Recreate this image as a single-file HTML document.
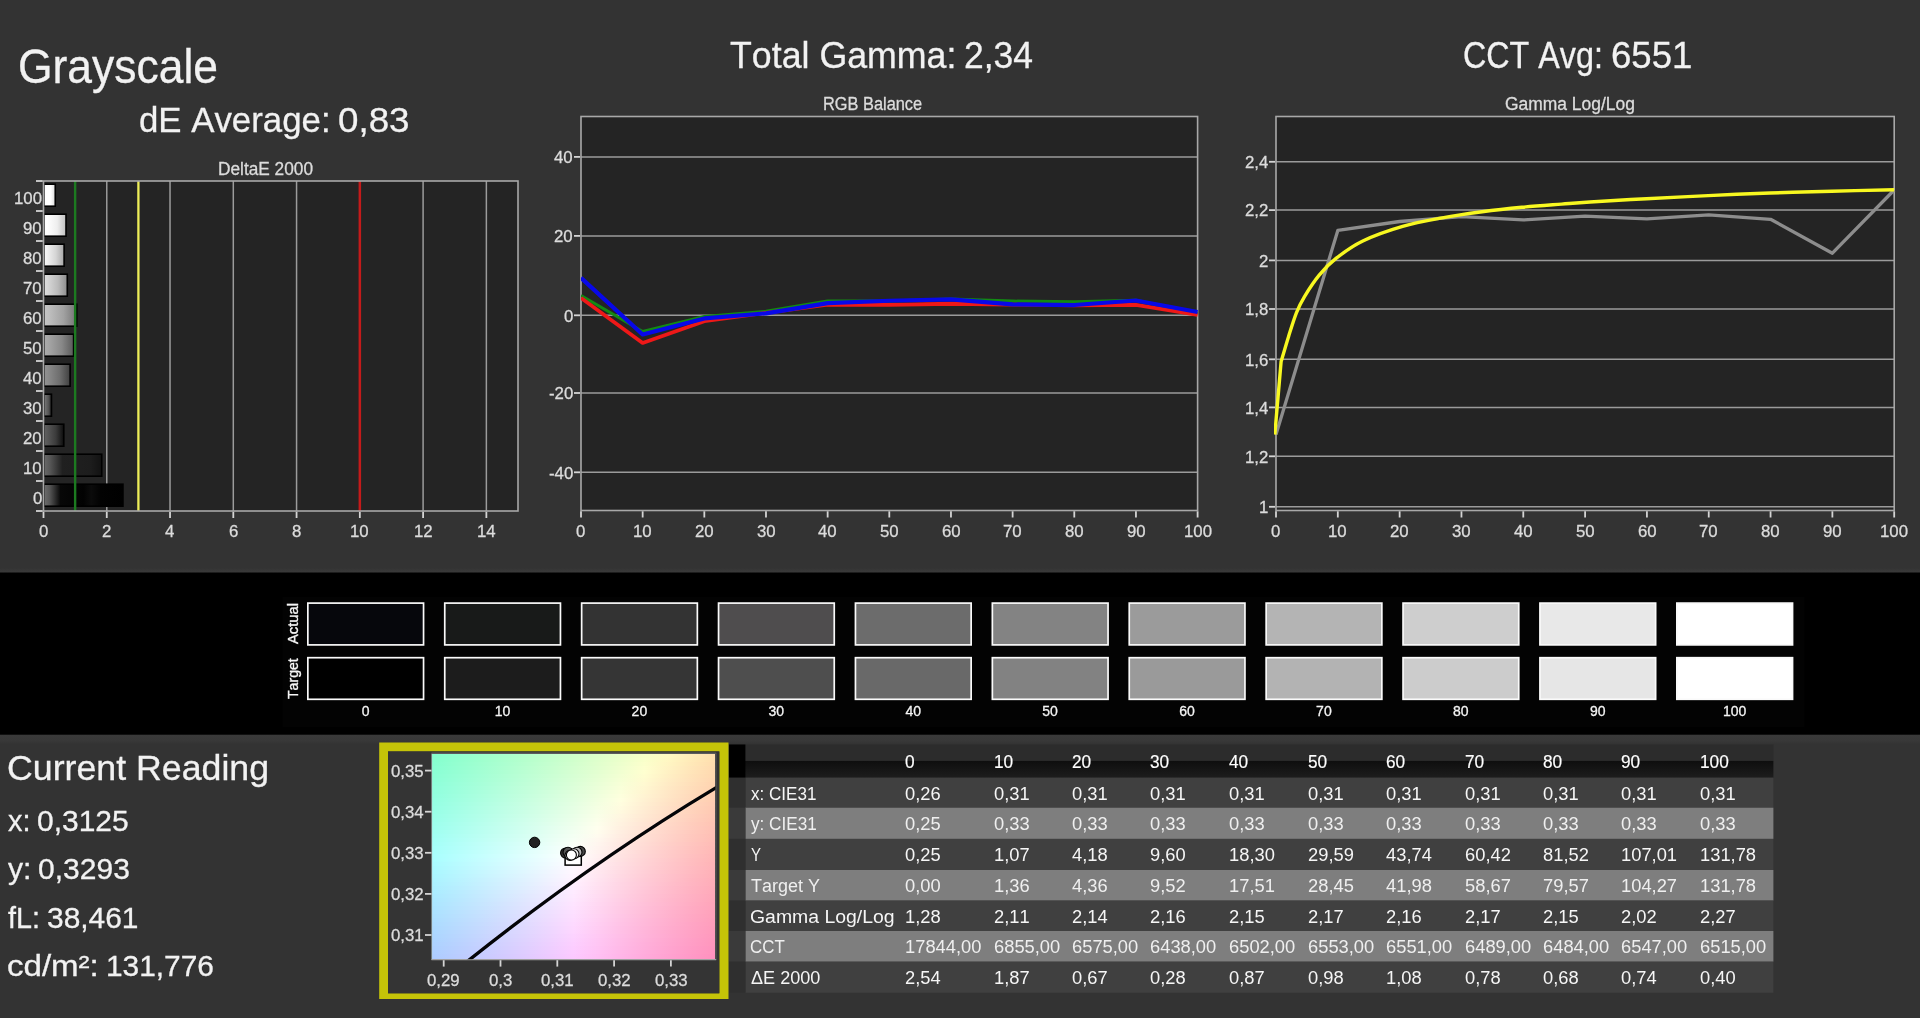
<!DOCTYPE html>
<html lang="en"><head><meta charset="utf-8"><title>Grayscale</title>
<style>
html,body{margin:0;padding:0;background:#333333;}
body{width:1920px;height:1018px;position:relative;overflow:hidden;font-family:"Liberation Sans",sans-serif;}
svg{position:absolute;left:0;top:0;}
#tx{position:absolute;left:0;top:0;width:1920px;height:1018px;will-change:transform;}
.t{position:absolute;white-space:nowrap;line-height:1;transform-origin:0 0;margin:0;padding:0;font-kerning:none;-webkit-text-stroke:0.3px currentColor;}
.r{position:absolute;white-space:nowrap;line-height:1;transform-origin:0 0;color:#f6f6f6;font-kerning:none;-webkit-text-stroke:0.35px currentColor;}
</style></head><body>
<svg width="1920" height="1018" viewBox="0 0 1920 1018">
<defs>
<linearGradient id="b0" x1="0" y1="0" x2="1" y2="0"><stop offset="0.000" stop-color="#6e6e6e"/><stop offset="0.070" stop-color="#585858"/><stop offset="0.210" stop-color="#070707"/><stop offset="0.500" stop-color="#020202"/><stop offset="0.600" stop-color="#0b0b0b"/><stop offset="0.720" stop-color="#020202"/><stop offset="1.000" stop-color="#000000"/></linearGradient>
<linearGradient id="b1" x1="0" y1="0" x2="1" y2="0"><stop offset="0.000" stop-color="#6a6a6a"/><stop offset="0.100" stop-color="#585858"/><stop offset="0.320" stop-color="#202020"/><stop offset="0.800" stop-color="#1d1d1d"/><stop offset="1.000" stop-color="#121212"/></linearGradient>
<linearGradient id="b2" x1="0" y1="0" x2="1" y2="0"><stop offset="0.000" stop-color="#606060"/><stop offset="0.150" stop-color="#595959"/><stop offset="0.600" stop-color="#3b3b3b"/><stop offset="1.000" stop-color="#0d0d0d"/></linearGradient>
<linearGradient id="b3" x1="0" y1="0" x2="1" y2="0"><stop offset="0.000" stop-color="#797979"/><stop offset="0.150" stop-color="#727272"/><stop offset="0.600" stop-color="#545454"/><stop offset="1.000" stop-color="#262626"/></linearGradient>
<linearGradient id="b4" x1="0" y1="0" x2="1" y2="0"><stop offset="0.000" stop-color="#939393"/><stop offset="0.150" stop-color="#8c8c8c"/><stop offset="0.600" stop-color="#6e6e6e"/><stop offset="1.000" stop-color="#404040"/></linearGradient>
<linearGradient id="b5" x1="0" y1="0" x2="1" y2="0"><stop offset="0.000" stop-color="#adadad"/><stop offset="0.150" stop-color="#a6a6a6"/><stop offset="0.600" stop-color="#888888"/><stop offset="1.000" stop-color="#5a5a5a"/></linearGradient>
<linearGradient id="b6" x1="0" y1="0" x2="1" y2="0"><stop offset="0.000" stop-color="#c6c6c6"/><stop offset="0.150" stop-color="#bfbfbf"/><stop offset="0.600" stop-color="#a1a1a1"/><stop offset="1.000" stop-color="#737373"/></linearGradient>
<linearGradient id="b7" x1="0" y1="0" x2="1" y2="0"><stop offset="0.000" stop-color="#dfdfdf"/><stop offset="0.150" stop-color="#d8d8d8"/><stop offset="0.600" stop-color="#bababa"/><stop offset="1.000" stop-color="#8c8c8c"/></linearGradient>
<linearGradient id="b8" x1="0" y1="0" x2="1" y2="0"><stop offset="0.000" stop-color="#f9f9f9"/><stop offset="0.150" stop-color="#f2f2f2"/><stop offset="0.600" stop-color="#d4d4d4"/><stop offset="1.000" stop-color="#a6a6a6"/></linearGradient>
<linearGradient id="b9" x1="0" y1="0" x2="1" y2="0"><stop offset="0.000" stop-color="#ffffff"/><stop offset="0.150" stop-color="#ffffff"/><stop offset="0.600" stop-color="#eeeeee"/><stop offset="1.000" stop-color="#c0c0c0"/></linearGradient>
<linearGradient id="b10" x1="0" y1="0" x2="1" y2="0"><stop offset="0.000" stop-color="#ffffff"/><stop offset="0.150" stop-color="#ffffff"/><stop offset="0.600" stop-color="#ffffff"/><stop offset="1.000" stop-color="#d9d9d9"/></linearGradient>
<clipPath id="rgbclip"><rect x="581.0" y="116.5" width="616.9999999999999" height="394.0"/></clipPath>
<clipPath id="gclip"><rect x="1274.0" y="116.5" width="621.7" height="394.0"/></clipPath>
<linearGradient id="ls1" x1="0" y1="0" x2="0" y2="1"><stop offset="0" stop-color="#333333"/><stop offset="1" stop-color="#3c3c3c"/></linearGradient>
<linearGradient id="ls2" x1="0" y1="0" x2="0" y2="1"><stop offset="0" stop-color="#3a3a3a"/><stop offset="0.7" stop-color="#383838"/><stop offset="1" stop-color="#333333"/></linearGradient>
<clipPath id="cclip"><rect x="432.0" y="753.8" width="283.4" height="205.4000000000001"/></clipPath>
<linearGradient id="c0"><stop offset="0.0000" stop-color="#84ffcd"/><stop offset="0.0833" stop-color="#90ffcd"/><stop offset="0.1667" stop-color="#9cffcc"/><stop offset="0.2500" stop-color="#a8ffcc"/><stop offset="0.3333" stop-color="#b5ffcb"/><stop offset="0.4167" stop-color="#c2ffcb"/><stop offset="0.5000" stop-color="#cfffca"/><stop offset="0.5833" stop-color="#dcffca"/><stop offset="0.6667" stop-color="#eaffc9"/><stop offset="0.7500" stop-color="#f7ffc8"/><stop offset="0.8333" stop-color="#fff9c3"/><stop offset="0.9167" stop-color="#ffebb8"/><stop offset="1.0000" stop-color="#ffdfae"/></linearGradient>
<linearGradient id="c1"><stop offset="0.0000" stop-color="#85ffcf"/><stop offset="0.0833" stop-color="#91ffcf"/><stop offset="0.1667" stop-color="#9dffce"/><stop offset="0.2500" stop-color="#aaffce"/><stop offset="0.3333" stop-color="#b6ffcd"/><stop offset="0.4167" stop-color="#c3ffcd"/><stop offset="0.5000" stop-color="#d0ffcc"/><stop offset="0.5833" stop-color="#deffcc"/><stop offset="0.6667" stop-color="#ebffcb"/><stop offset="0.7500" stop-color="#f9ffca"/><stop offset="0.8333" stop-color="#fff7c3"/><stop offset="0.9167" stop-color="#ffeab8"/><stop offset="1.0000" stop-color="#ffdeae"/></linearGradient>
<linearGradient id="c2"><stop offset="0.0000" stop-color="#86ffd1"/><stop offset="0.0833" stop-color="#93ffd0"/><stop offset="0.1667" stop-color="#9fffd0"/><stop offset="0.2500" stop-color="#abffd0"/><stop offset="0.3333" stop-color="#b8ffcf"/><stop offset="0.4167" stop-color="#c5ffcf"/><stop offset="0.5000" stop-color="#d2ffce"/><stop offset="0.5833" stop-color="#e0ffcd"/><stop offset="0.6667" stop-color="#edffcd"/><stop offset="0.7500" stop-color="#fbffcc"/><stop offset="0.8333" stop-color="#fff5c3"/><stop offset="0.9167" stop-color="#ffe8b8"/><stop offset="1.0000" stop-color="#ffdcae"/></linearGradient>
<linearGradient id="c3"><stop offset="0.0000" stop-color="#88ffd3"/><stop offset="0.0833" stop-color="#94ffd2"/><stop offset="0.1667" stop-color="#a0ffd2"/><stop offset="0.2500" stop-color="#adffd1"/><stop offset="0.3333" stop-color="#baffd1"/><stop offset="0.4167" stop-color="#c7ffd0"/><stop offset="0.5000" stop-color="#d4ffd0"/><stop offset="0.5833" stop-color="#e1ffcf"/><stop offset="0.6667" stop-color="#efffcf"/><stop offset="0.7500" stop-color="#fdffce"/><stop offset="0.8333" stop-color="#fff3c4"/><stop offset="0.9167" stop-color="#ffe6b9"/><stop offset="1.0000" stop-color="#ffdaaf"/></linearGradient>
<linearGradient id="c4"><stop offset="0.0000" stop-color="#89ffd5"/><stop offset="0.0833" stop-color="#95ffd4"/><stop offset="0.1667" stop-color="#a2ffd4"/><stop offset="0.2500" stop-color="#aeffd3"/><stop offset="0.3333" stop-color="#bbffd3"/><stop offset="0.4167" stop-color="#c8ffd2"/><stop offset="0.5000" stop-color="#d6ffd2"/><stop offset="0.5833" stop-color="#e3ffd1"/><stop offset="0.6667" stop-color="#f1ffd1"/><stop offset="0.7500" stop-color="#ffffd0"/><stop offset="0.8333" stop-color="#fff1c4"/><stop offset="0.9167" stop-color="#ffe4b9"/><stop offset="1.0000" stop-color="#ffd8af"/></linearGradient>
<linearGradient id="c5"><stop offset="0.0000" stop-color="#8bffd6"/><stop offset="0.0833" stop-color="#97ffd6"/><stop offset="0.1667" stop-color="#a3ffd6"/><stop offset="0.2500" stop-color="#b0ffd5"/><stop offset="0.3333" stop-color="#bdffd5"/><stop offset="0.4167" stop-color="#caffd4"/><stop offset="0.5000" stop-color="#d7ffd4"/><stop offset="0.5833" stop-color="#e5ffd3"/><stop offset="0.6667" stop-color="#f3ffd3"/><stop offset="0.7500" stop-color="#fffdd0"/><stop offset="0.8333" stop-color="#ffefc4"/><stop offset="0.9167" stop-color="#ffe2b9"/><stop offset="1.0000" stop-color="#ffd7af"/></linearGradient>
<linearGradient id="c6"><stop offset="0.0000" stop-color="#8cffd8"/><stop offset="0.0833" stop-color="#98ffd8"/><stop offset="0.1667" stop-color="#a5ffd7"/><stop offset="0.2500" stop-color="#b1ffd7"/><stop offset="0.3333" stop-color="#beffd7"/><stop offset="0.4167" stop-color="#ccffd6"/><stop offset="0.5000" stop-color="#d9ffd6"/><stop offset="0.5833" stop-color="#e7ffd5"/><stop offset="0.6667" stop-color="#f5ffd5"/><stop offset="0.7500" stop-color="#fffbd0"/><stop offset="0.8333" stop-color="#ffedc5"/><stop offset="0.9167" stop-color="#ffe1ba"/><stop offset="1.0000" stop-color="#ffd5b0"/></linearGradient>
<linearGradient id="c7"><stop offset="0.0000" stop-color="#8dffda"/><stop offset="0.0833" stop-color="#9affda"/><stop offset="0.1667" stop-color="#a6ffd9"/><stop offset="0.2500" stop-color="#b3ffd9"/><stop offset="0.3333" stop-color="#c0ffd8"/><stop offset="0.4167" stop-color="#cdffd8"/><stop offset="0.5000" stop-color="#dbffd8"/><stop offset="0.5833" stop-color="#e9ffd7"/><stop offset="0.6667" stop-color="#f7ffd7"/><stop offset="0.7500" stop-color="#fff9d1"/><stop offset="0.8333" stop-color="#ffebc5"/><stop offset="0.9167" stop-color="#ffdfba"/><stop offset="1.0000" stop-color="#ffd3b0"/></linearGradient>
<linearGradient id="c8"><stop offset="0.0000" stop-color="#8fffdc"/><stop offset="0.0833" stop-color="#9bffdc"/><stop offset="0.1667" stop-color="#a8ffdb"/><stop offset="0.2500" stop-color="#b5ffdb"/><stop offset="0.3333" stop-color="#c2ffda"/><stop offset="0.4167" stop-color="#cfffda"/><stop offset="0.5000" stop-color="#ddffda"/><stop offset="0.5833" stop-color="#ebffd9"/><stop offset="0.6667" stop-color="#f9ffd9"/><stop offset="0.7500" stop-color="#fff7d1"/><stop offset="0.8333" stop-color="#ffe9c5"/><stop offset="0.9167" stop-color="#ffddba"/><stop offset="1.0000" stop-color="#ffd2b0"/></linearGradient>
<linearGradient id="c9"><stop offset="0.0000" stop-color="#90ffde"/><stop offset="0.0833" stop-color="#9cffdd"/><stop offset="0.1667" stop-color="#a9ffdd"/><stop offset="0.2500" stop-color="#b6ffdd"/><stop offset="0.3333" stop-color="#c3ffdc"/><stop offset="0.4167" stop-color="#d1ffdc"/><stop offset="0.5000" stop-color="#dfffdc"/><stop offset="0.5833" stop-color="#edffdb"/><stop offset="0.6667" stop-color="#fbffdb"/><stop offset="0.7500" stop-color="#fff5d1"/><stop offset="0.8333" stop-color="#ffe7c6"/><stop offset="0.9167" stop-color="#ffdbbb"/><stop offset="1.0000" stop-color="#ffd0b1"/></linearGradient>
<linearGradient id="c10"><stop offset="0.0000" stop-color="#91ffe0"/><stop offset="0.0833" stop-color="#9effdf"/><stop offset="0.1667" stop-color="#abffdf"/><stop offset="0.2500" stop-color="#b8ffdf"/><stop offset="0.3333" stop-color="#c5ffde"/><stop offset="0.4167" stop-color="#d3ffde"/><stop offset="0.5000" stop-color="#e1ffde"/><stop offset="0.5833" stop-color="#efffdd"/><stop offset="0.6667" stop-color="#fdffdd"/><stop offset="0.7500" stop-color="#fff3d2"/><stop offset="0.8333" stop-color="#ffe6c6"/><stop offset="0.9167" stop-color="#ffd9bb"/><stop offset="1.0000" stop-color="#ffceb1"/></linearGradient>
<linearGradient id="c11"><stop offset="0.0000" stop-color="#93ffe2"/><stop offset="0.0833" stop-color="#9fffe1"/><stop offset="0.1667" stop-color="#acffe1"/><stop offset="0.2500" stop-color="#b9ffe1"/><stop offset="0.3333" stop-color="#c7ffe0"/><stop offset="0.4167" stop-color="#d5ffe0"/><stop offset="0.5000" stop-color="#e2ffe0"/><stop offset="0.5833" stop-color="#f1ffdf"/><stop offset="0.6667" stop-color="#ffffdf"/><stop offset="0.7500" stop-color="#fff1d2"/><stop offset="0.8333" stop-color="#ffe4c6"/><stop offset="0.9167" stop-color="#ffd8bb"/><stop offset="1.0000" stop-color="#ffcdb1"/></linearGradient>
<linearGradient id="c12"><stop offset="0.0000" stop-color="#94ffe3"/><stop offset="0.0833" stop-color="#a1ffe3"/><stop offset="0.1667" stop-color="#aeffe3"/><stop offset="0.2500" stop-color="#bbffe3"/><stop offset="0.3333" stop-color="#c9ffe2"/><stop offset="0.4167" stop-color="#d6ffe2"/><stop offset="0.5000" stop-color="#e4ffe2"/><stop offset="0.5833" stop-color="#f3ffe1"/><stop offset="0.6667" stop-color="#fffddf"/><stop offset="0.7500" stop-color="#ffefd2"/><stop offset="0.8333" stop-color="#ffe2c6"/><stop offset="0.9167" stop-color="#ffd6bc"/><stop offset="1.0000" stop-color="#ffcbb2"/></linearGradient>
<linearGradient id="c13"><stop offset="0.0000" stop-color="#96ffe5"/><stop offset="0.0833" stop-color="#a2ffe5"/><stop offset="0.1667" stop-color="#b0ffe5"/><stop offset="0.2500" stop-color="#bdffe5"/><stop offset="0.3333" stop-color="#caffe4"/><stop offset="0.4167" stop-color="#d8ffe4"/><stop offset="0.5000" stop-color="#e6ffe4"/><stop offset="0.5833" stop-color="#f5ffe3"/><stop offset="0.6667" stop-color="#fffbdf"/><stop offset="0.7500" stop-color="#ffedd2"/><stop offset="0.8333" stop-color="#ffe0c7"/><stop offset="0.9167" stop-color="#ffd4bc"/><stop offset="1.0000" stop-color="#ffc9b2"/></linearGradient>
<linearGradient id="c14"><stop offset="0.0000" stop-color="#97ffe7"/><stop offset="0.0833" stop-color="#a4ffe7"/><stop offset="0.1667" stop-color="#b1ffe7"/><stop offset="0.2500" stop-color="#beffe7"/><stop offset="0.3333" stop-color="#ccffe6"/><stop offset="0.4167" stop-color="#daffe6"/><stop offset="0.5000" stop-color="#e8ffe6"/><stop offset="0.5833" stop-color="#f7ffe6"/><stop offset="0.6667" stop-color="#fff9df"/><stop offset="0.7500" stop-color="#ffebd3"/><stop offset="0.8333" stop-color="#ffdec7"/><stop offset="0.9167" stop-color="#ffd3bc"/><stop offset="1.0000" stop-color="#ffc8b2"/></linearGradient>
<linearGradient id="c15"><stop offset="0.0000" stop-color="#99ffe9"/><stop offset="0.0833" stop-color="#a6ffe9"/><stop offset="0.1667" stop-color="#b3ffe9"/><stop offset="0.2500" stop-color="#c0ffe9"/><stop offset="0.3333" stop-color="#ceffe8"/><stop offset="0.4167" stop-color="#dcffe8"/><stop offset="0.5000" stop-color="#eaffe8"/><stop offset="0.5833" stop-color="#f9ffe8"/><stop offset="0.6667" stop-color="#fff6e0"/><stop offset="0.7500" stop-color="#ffe9d3"/><stop offset="0.8333" stop-color="#ffdcc7"/><stop offset="0.9167" stop-color="#ffd1bd"/><stop offset="1.0000" stop-color="#ffc6b3"/></linearGradient>
<linearGradient id="c16"><stop offset="0.0000" stop-color="#9affeb"/><stop offset="0.0833" stop-color="#a7ffeb"/><stop offset="0.1667" stop-color="#b4ffeb"/><stop offset="0.2500" stop-color="#c2ffeb"/><stop offset="0.3333" stop-color="#d0ffeb"/><stop offset="0.4167" stop-color="#deffea"/><stop offset="0.5000" stop-color="#ecffea"/><stop offset="0.5833" stop-color="#fbffea"/><stop offset="0.6667" stop-color="#fff4e0"/><stop offset="0.7500" stop-color="#ffe7d3"/><stop offset="0.8333" stop-color="#ffdbc8"/><stop offset="0.9167" stop-color="#ffcfbd"/><stop offset="1.0000" stop-color="#ffc5b3"/></linearGradient>
<linearGradient id="c17"><stop offset="0.0000" stop-color="#9cffed"/><stop offset="0.0833" stop-color="#a9ffed"/><stop offset="0.1667" stop-color="#b6ffed"/><stop offset="0.2500" stop-color="#c4ffed"/><stop offset="0.3333" stop-color="#d2ffed"/><stop offset="0.4167" stop-color="#e0ffec"/><stop offset="0.5000" stop-color="#eeffec"/><stop offset="0.5833" stop-color="#fdffec"/><stop offset="0.6667" stop-color="#fff2e0"/><stop offset="0.7500" stop-color="#ffe5d4"/><stop offset="0.8333" stop-color="#ffd9c8"/><stop offset="0.9167" stop-color="#ffcdbd"/><stop offset="1.0000" stop-color="#ffc3b3"/></linearGradient>
<linearGradient id="c18"><stop offset="0.0000" stop-color="#9dffef"/><stop offset="0.0833" stop-color="#aaffef"/><stop offset="0.1667" stop-color="#b8ffef"/><stop offset="0.2500" stop-color="#c5ffef"/><stop offset="0.3333" stop-color="#d3ffef"/><stop offset="0.4167" stop-color="#e2ffef"/><stop offset="0.5000" stop-color="#f0ffee"/><stop offset="0.5833" stop-color="#ffffee"/><stop offset="0.6667" stop-color="#fff0e0"/><stop offset="0.7500" stop-color="#ffe3d4"/><stop offset="0.8333" stop-color="#ffd7c8"/><stop offset="0.9167" stop-color="#ffccbe"/><stop offset="1.0000" stop-color="#ffc1b4"/></linearGradient>
<linearGradient id="c19"><stop offset="0.0000" stop-color="#9ffff1"/><stop offset="0.0833" stop-color="#acfff1"/><stop offset="0.1667" stop-color="#b9fff1"/><stop offset="0.2500" stop-color="#c7fff1"/><stop offset="0.3333" stop-color="#d5fff1"/><stop offset="0.4167" stop-color="#e4fff1"/><stop offset="0.5000" stop-color="#f2fff1"/><stop offset="0.5833" stop-color="#fffdee"/><stop offset="0.6667" stop-color="#ffeee1"/><stop offset="0.7500" stop-color="#ffe1d4"/><stop offset="0.8333" stop-color="#ffd5c9"/><stop offset="0.9167" stop-color="#ffcabe"/><stop offset="1.0000" stop-color="#ffc0b4"/></linearGradient>
<linearGradient id="c20"><stop offset="0.0000" stop-color="#a0fff4"/><stop offset="0.0833" stop-color="#aefff3"/><stop offset="0.1667" stop-color="#bbfff3"/><stop offset="0.2500" stop-color="#c9fff3"/><stop offset="0.3333" stop-color="#d7fff3"/><stop offset="0.4167" stop-color="#e6fff3"/><stop offset="0.5000" stop-color="#f4fff3"/><stop offset="0.5833" stop-color="#fffbef"/><stop offset="0.6667" stop-color="#ffece1"/><stop offset="0.7500" stop-color="#ffdfd4"/><stop offset="0.8333" stop-color="#ffd3c9"/><stop offset="0.9167" stop-color="#ffc8be"/><stop offset="1.0000" stop-color="#ffbeb4"/></linearGradient>
<linearGradient id="c21"><stop offset="0.0000" stop-color="#a2fff6"/><stop offset="0.0833" stop-color="#affff6"/><stop offset="0.1667" stop-color="#bdfff5"/><stop offset="0.2500" stop-color="#cbfff5"/><stop offset="0.3333" stop-color="#d9fff5"/><stop offset="0.4167" stop-color="#e8fff5"/><stop offset="0.5000" stop-color="#f6fff5"/><stop offset="0.5833" stop-color="#fff8ef"/><stop offset="0.6667" stop-color="#ffeae1"/><stop offset="0.7500" stop-color="#ffded5"/><stop offset="0.8333" stop-color="#ffd2c9"/><stop offset="0.9167" stop-color="#ffc7be"/><stop offset="1.0000" stop-color="#ffbdb5"/></linearGradient>
<linearGradient id="c22"><stop offset="0.0000" stop-color="#a3fff8"/><stop offset="0.0833" stop-color="#b1fff8"/><stop offset="0.1667" stop-color="#bffff8"/><stop offset="0.2500" stop-color="#cdfff8"/><stop offset="0.3333" stop-color="#dbfff8"/><stop offset="0.4167" stop-color="#eafff7"/><stop offset="0.5000" stop-color="#f9fff7"/><stop offset="0.5833" stop-color="#fff6ef"/><stop offset="0.6667" stop-color="#ffe8e1"/><stop offset="0.7500" stop-color="#ffdcd5"/><stop offset="0.8333" stop-color="#ffd0c9"/><stop offset="0.9167" stop-color="#ffc5bf"/><stop offset="1.0000" stop-color="#ffbbb5"/></linearGradient>
<linearGradient id="c23"><stop offset="0.0000" stop-color="#a5fffa"/><stop offset="0.0833" stop-color="#b2fffa"/><stop offset="0.1667" stop-color="#c0fffa"/><stop offset="0.2500" stop-color="#cefffa"/><stop offset="0.3333" stop-color="#ddfffa"/><stop offset="0.4167" stop-color="#ecfffa"/><stop offset="0.5000" stop-color="#fbfffa"/><stop offset="0.5833" stop-color="#fff4ef"/><stop offset="0.6667" stop-color="#ffe7e2"/><stop offset="0.7500" stop-color="#ffdad5"/><stop offset="0.8333" stop-color="#ffceca"/><stop offset="0.9167" stop-color="#ffc3bf"/><stop offset="1.0000" stop-color="#ffb9b5"/></linearGradient>
<linearGradient id="c24"><stop offset="0.0000" stop-color="#a7fffc"/><stop offset="0.0833" stop-color="#b4fffc"/><stop offset="0.1667" stop-color="#c2fffc"/><stop offset="0.2500" stop-color="#d0fffc"/><stop offset="0.3333" stop-color="#dffffc"/><stop offset="0.4167" stop-color="#eefffc"/><stop offset="0.5000" stop-color="#fdfffc"/><stop offset="0.5833" stop-color="#fff2ef"/><stop offset="0.6667" stop-color="#ffe5e2"/><stop offset="0.7500" stop-color="#ffd8d5"/><stop offset="0.8333" stop-color="#ffccca"/><stop offset="0.9167" stop-color="#ffc2bf"/><stop offset="1.0000" stop-color="#ffb8b6"/></linearGradient>
<linearGradient id="c25"><stop offset="0.0000" stop-color="#a8fffe"/><stop offset="0.0833" stop-color="#b6fffe"/><stop offset="0.1667" stop-color="#c4fffe"/><stop offset="0.2500" stop-color="#d2fffe"/><stop offset="0.3333" stop-color="#e1fffe"/><stop offset="0.4167" stop-color="#f0fffe"/><stop offset="0.5000" stop-color="#fffffe"/><stop offset="0.5833" stop-color="#fff0f0"/><stop offset="0.6667" stop-color="#ffe3e2"/><stop offset="0.7500" stop-color="#ffd6d6"/><stop offset="0.8333" stop-color="#ffcbca"/><stop offset="0.9167" stop-color="#ffc0c0"/><stop offset="1.0000" stop-color="#ffb6b6"/></linearGradient>
<linearGradient id="c26"><stop offset="0.0000" stop-color="#a9feff"/><stop offset="0.0833" stop-color="#b7feff"/><stop offset="0.1667" stop-color="#c5fdff"/><stop offset="0.2500" stop-color="#d3fdff"/><stop offset="0.3333" stop-color="#e1fdff"/><stop offset="0.4167" stop-color="#f0fdff"/><stop offset="0.5000" stop-color="#fffdfe"/><stop offset="0.5833" stop-color="#ffeef0"/><stop offset="0.6667" stop-color="#ffe1e2"/><stop offset="0.7500" stop-color="#ffd4d6"/><stop offset="0.8333" stop-color="#ffc9cb"/><stop offset="0.9167" stop-color="#ffbec0"/><stop offset="1.0000" stop-color="#ffb5b6"/></linearGradient>
<linearGradient id="c27"><stop offset="0.0000" stop-color="#a9fbff"/><stop offset="0.0833" stop-color="#b7fbff"/><stop offset="0.1667" stop-color="#c5fbff"/><stop offset="0.2500" stop-color="#d3fbff"/><stop offset="0.3333" stop-color="#e1fbff"/><stop offset="0.4167" stop-color="#f0fbff"/><stop offset="0.5000" stop-color="#fffbff"/><stop offset="0.5833" stop-color="#ffecf0"/><stop offset="0.6667" stop-color="#ffdfe3"/><stop offset="0.7500" stop-color="#ffd3d6"/><stop offset="0.8333" stop-color="#ffc7cb"/><stop offset="0.9167" stop-color="#ffbdc0"/><stop offset="1.0000" stop-color="#ffb3b6"/></linearGradient>
<linearGradient id="c28"><stop offset="0.0000" stop-color="#a9f9ff"/><stop offset="0.0833" stop-color="#b7f9ff"/><stop offset="0.1667" stop-color="#c5f9ff"/><stop offset="0.2500" stop-color="#d3f9ff"/><stop offset="0.3333" stop-color="#e1f9ff"/><stop offset="0.4167" stop-color="#f0f9ff"/><stop offset="0.5000" stop-color="#fff8ff"/><stop offset="0.5833" stop-color="#ffeaf0"/><stop offset="0.6667" stop-color="#ffdde3"/><stop offset="0.7500" stop-color="#ffd1d6"/><stop offset="0.8333" stop-color="#ffc6cb"/><stop offset="0.9167" stop-color="#ffbbc1"/><stop offset="1.0000" stop-color="#ffb2b7"/></linearGradient>
<linearGradient id="c29"><stop offset="0.0000" stop-color="#a9f7ff"/><stop offset="0.0833" stop-color="#b7f7ff"/><stop offset="0.1667" stop-color="#c5f7ff"/><stop offset="0.2500" stop-color="#d3f7ff"/><stop offset="0.3333" stop-color="#e1f7ff"/><stop offset="0.4167" stop-color="#f0f6ff"/><stop offset="0.5000" stop-color="#fff6ff"/><stop offset="0.5833" stop-color="#ffe8f0"/><stop offset="0.6667" stop-color="#ffdbe3"/><stop offset="0.7500" stop-color="#ffcfd7"/><stop offset="0.8333" stop-color="#ffc4cb"/><stop offset="0.9167" stop-color="#ffbac1"/><stop offset="1.0000" stop-color="#ffb0b7"/></linearGradient>
<linearGradient id="c30"><stop offset="0.0000" stop-color="#a9f5ff"/><stop offset="0.0833" stop-color="#b7f5ff"/><stop offset="0.1667" stop-color="#c5f5ff"/><stop offset="0.2500" stop-color="#d3f5ff"/><stop offset="0.3333" stop-color="#e1f4ff"/><stop offset="0.4167" stop-color="#f0f4ff"/><stop offset="0.5000" stop-color="#fff4ff"/><stop offset="0.5833" stop-color="#ffe6f1"/><stop offset="0.6667" stop-color="#ffd9e3"/><stop offset="0.7500" stop-color="#ffcdd7"/><stop offset="0.8333" stop-color="#ffc2cc"/><stop offset="0.9167" stop-color="#ffb8c1"/><stop offset="1.0000" stop-color="#ffafb7"/></linearGradient>
<linearGradient id="c31"><stop offset="0.0000" stop-color="#aaf3ff"/><stop offset="0.0833" stop-color="#b7f3ff"/><stop offset="0.1667" stop-color="#c5f2ff"/><stop offset="0.2500" stop-color="#d3f2ff"/><stop offset="0.3333" stop-color="#e1f2ff"/><stop offset="0.4167" stop-color="#f0f2ff"/><stop offset="0.5000" stop-color="#fff2ff"/><stop offset="0.5833" stop-color="#ffe4f1"/><stop offset="0.6667" stop-color="#ffd7e4"/><stop offset="0.7500" stop-color="#ffcbd7"/><stop offset="0.8333" stop-color="#ffc1cc"/><stop offset="0.9167" stop-color="#ffb6c1"/><stop offset="1.0000" stop-color="#ffadb8"/></linearGradient>
<linearGradient id="c32"><stop offset="0.0000" stop-color="#aaf1ff"/><stop offset="0.0833" stop-color="#b7f1ff"/><stop offset="0.1667" stop-color="#c5f0ff"/><stop offset="0.2500" stop-color="#d3f0ff"/><stop offset="0.3333" stop-color="#e1f0ff"/><stop offset="0.4167" stop-color="#f0f0ff"/><stop offset="0.5000" stop-color="#ffefff"/><stop offset="0.5833" stop-color="#ffe2f1"/><stop offset="0.6667" stop-color="#ffd5e4"/><stop offset="0.7500" stop-color="#ffcad8"/><stop offset="0.8333" stop-color="#ffbfcc"/><stop offset="0.9167" stop-color="#ffb5c2"/><stop offset="1.0000" stop-color="#ffacb8"/></linearGradient>
<linearGradient id="c33"><stop offset="0.0000" stop-color="#aaefff"/><stop offset="0.0833" stop-color="#b7eeff"/><stop offset="0.1667" stop-color="#c5eeff"/><stop offset="0.2500" stop-color="#d3eeff"/><stop offset="0.3333" stop-color="#e1eeff"/><stop offset="0.4167" stop-color="#efedff"/><stop offset="0.5000" stop-color="#feedff"/><stop offset="0.5833" stop-color="#ffe0f1"/><stop offset="0.6667" stop-color="#ffd4e4"/><stop offset="0.7500" stop-color="#ffc8d8"/><stop offset="0.8333" stop-color="#ffbdcc"/><stop offset="0.9167" stop-color="#ffb3c2"/><stop offset="1.0000" stop-color="#ffaab8"/></linearGradient>
<linearGradient id="c34"><stop offset="0.0000" stop-color="#aaedff"/><stop offset="0.0833" stop-color="#b7ecff"/><stop offset="0.1667" stop-color="#c5ecff"/><stop offset="0.2500" stop-color="#d3ecff"/><stop offset="0.3333" stop-color="#e1ecff"/><stop offset="0.4167" stop-color="#efebff"/><stop offset="0.5000" stop-color="#feebff"/><stop offset="0.5833" stop-color="#ffdef1"/><stop offset="0.6667" stop-color="#ffd2e4"/><stop offset="0.7500" stop-color="#ffc6d8"/><stop offset="0.8333" stop-color="#ffbccd"/><stop offset="0.9167" stop-color="#ffb2c2"/><stop offset="1.0000" stop-color="#ffa9b9"/></linearGradient>
<linearGradient id="c35"><stop offset="0.0000" stop-color="#aaeaff"/><stop offset="0.0833" stop-color="#b7eaff"/><stop offset="0.1667" stop-color="#c5eaff"/><stop offset="0.2500" stop-color="#d3eaff"/><stop offset="0.3333" stop-color="#e1e9ff"/><stop offset="0.4167" stop-color="#efe9ff"/><stop offset="0.5000" stop-color="#fee9ff"/><stop offset="0.5833" stop-color="#ffdcf2"/><stop offset="0.6667" stop-color="#ffd0e4"/><stop offset="0.7500" stop-color="#ffc4d8"/><stop offset="0.8333" stop-color="#ffbacd"/><stop offset="0.9167" stop-color="#ffb0c3"/><stop offset="1.0000" stop-color="#ffa7b9"/></linearGradient>
<linearGradient id="c36"><stop offset="0.0000" stop-color="#aae8ff"/><stop offset="0.0833" stop-color="#b7e8ff"/><stop offset="0.1667" stop-color="#c5e8ff"/><stop offset="0.2500" stop-color="#d3e8ff"/><stop offset="0.3333" stop-color="#e1e7ff"/><stop offset="0.4167" stop-color="#efe7ff"/><stop offset="0.5000" stop-color="#fee7ff"/><stop offset="0.5833" stop-color="#ffdaf2"/><stop offset="0.6667" stop-color="#ffcee5"/><stop offset="0.7500" stop-color="#ffc3d8"/><stop offset="0.8333" stop-color="#ffb8cd"/><stop offset="0.9167" stop-color="#ffafc3"/><stop offset="1.0000" stop-color="#ffa6b9"/></linearGradient>
<linearGradient id="c37"><stop offset="0.0000" stop-color="#aae6ff"/><stop offset="0.0833" stop-color="#b8e6ff"/><stop offset="0.1667" stop-color="#c5e6ff"/><stop offset="0.2500" stop-color="#d3e5ff"/><stop offset="0.3333" stop-color="#e1e5ff"/><stop offset="0.4167" stop-color="#efe5ff"/><stop offset="0.5000" stop-color="#fee4ff"/><stop offset="0.5833" stop-color="#ffd8f2"/><stop offset="0.6667" stop-color="#ffcce5"/><stop offset="0.7500" stop-color="#ffc1d9"/><stop offset="0.8333" stop-color="#ffb7ce"/><stop offset="0.9167" stop-color="#ffadc3"/><stop offset="1.0000" stop-color="#ffa4b9"/></linearGradient>
<linearGradient id="c38"><stop offset="0.0000" stop-color="#aae4ff"/><stop offset="0.0833" stop-color="#b8e4ff"/><stop offset="0.1667" stop-color="#c5e4ff"/><stop offset="0.2500" stop-color="#d3e3ff"/><stop offset="0.3333" stop-color="#e1e3ff"/><stop offset="0.4167" stop-color="#efe3ff"/><stop offset="0.5000" stop-color="#fee2ff"/><stop offset="0.5833" stop-color="#ffd6f2"/><stop offset="0.6667" stop-color="#ffcae5"/><stop offset="0.7500" stop-color="#ffbfd9"/><stop offset="0.8333" stop-color="#ffb5ce"/><stop offset="0.9167" stop-color="#ffabc3"/><stop offset="1.0000" stop-color="#ffa3ba"/></linearGradient>
<linearGradient id="c39"><stop offset="0.0000" stop-color="#abe2ff"/><stop offset="0.0833" stop-color="#b8e2ff"/><stop offset="0.1667" stop-color="#c5e2ff"/><stop offset="0.2500" stop-color="#d3e1ff"/><stop offset="0.3333" stop-color="#e1e1ff"/><stop offset="0.4167" stop-color="#efe0ff"/><stop offset="0.5000" stop-color="#fde0ff"/><stop offset="0.5833" stop-color="#ffd5f2"/><stop offset="0.6667" stop-color="#ffc9e5"/><stop offset="0.7500" stop-color="#ffbed9"/><stop offset="0.8333" stop-color="#ffb3ce"/><stop offset="0.9167" stop-color="#ffaac4"/><stop offset="1.0000" stop-color="#ffa1ba"/></linearGradient>
<linearGradient id="c40"><stop offset="0.0000" stop-color="#abe0ff"/><stop offset="0.0833" stop-color="#b8e0ff"/><stop offset="0.1667" stop-color="#c5e0ff"/><stop offset="0.2500" stop-color="#d3dfff"/><stop offset="0.3333" stop-color="#e1dfff"/><stop offset="0.4167" stop-color="#efdeff"/><stop offset="0.5000" stop-color="#fddeff"/><stop offset="0.5833" stop-color="#ffd3f3"/><stop offset="0.6667" stop-color="#ffc7e6"/><stop offset="0.7500" stop-color="#ffbcd9"/><stop offset="0.8333" stop-color="#ffb2ce"/><stop offset="0.9167" stop-color="#ffa8c4"/><stop offset="1.0000" stop-color="#ffa0ba"/></linearGradient>
<linearGradient id="c41"><stop offset="0.0000" stop-color="#abdeff"/><stop offset="0.0833" stop-color="#b8deff"/><stop offset="0.1667" stop-color="#c5deff"/><stop offset="0.2500" stop-color="#d3ddff"/><stop offset="0.3333" stop-color="#e1ddff"/><stop offset="0.4167" stop-color="#efdcff"/><stop offset="0.5000" stop-color="#fddcff"/><stop offset="0.5833" stop-color="#ffd1f3"/><stop offset="0.6667" stop-color="#ffc5e6"/><stop offset="0.7500" stop-color="#ffbada"/><stop offset="0.8333" stop-color="#ffb0cf"/><stop offset="0.9167" stop-color="#ffa7c4"/><stop offset="1.0000" stop-color="#ff9ebb"/></linearGradient>
<linearGradient id="c42"><stop offset="0.0000" stop-color="#abdcff"/><stop offset="0.0833" stop-color="#b8dcff"/><stop offset="0.1667" stop-color="#c5dcff"/><stop offset="0.2500" stop-color="#d3dbff"/><stop offset="0.3333" stop-color="#e0dbff"/><stop offset="0.4167" stop-color="#efdaff"/><stop offset="0.5000" stop-color="#fddaff"/><stop offset="0.5833" stop-color="#ffcff3"/><stop offset="0.6667" stop-color="#ffc3e6"/><stop offset="0.7500" stop-color="#ffb9da"/><stop offset="0.8333" stop-color="#ffafcf"/><stop offset="0.9167" stop-color="#ffa5c5"/><stop offset="1.0000" stop-color="#ff9dbb"/></linearGradient>
<linearGradient id="c43"><stop offset="0.0000" stop-color="#abdaff"/><stop offset="0.0833" stop-color="#b8daff"/><stop offset="0.1667" stop-color="#c5daff"/><stop offset="0.2500" stop-color="#d3d9ff"/><stop offset="0.3333" stop-color="#e0d9ff"/><stop offset="0.4167" stop-color="#eed8ff"/><stop offset="0.5000" stop-color="#fdd8ff"/><stop offset="0.5833" stop-color="#ffcdf3"/><stop offset="0.6667" stop-color="#ffc1e6"/><stop offset="0.7500" stop-color="#ffb7da"/><stop offset="0.8333" stop-color="#ffadcf"/><stop offset="0.9167" stop-color="#ffa4c5"/><stop offset="1.0000" stop-color="#ff9bbb"/></linearGradient>
<linearGradient id="c44"><stop offset="0.0000" stop-color="#abd8ff"/><stop offset="0.0833" stop-color="#b8d8ff"/><stop offset="0.1667" stop-color="#c5d8ff"/><stop offset="0.2500" stop-color="#d3d7ff"/><stop offset="0.3333" stop-color="#e0d7ff"/><stop offset="0.4167" stop-color="#eed6ff"/><stop offset="0.5000" stop-color="#fdd6ff"/><stop offset="0.5833" stop-color="#ffcbf3"/><stop offset="0.6667" stop-color="#ffc0e6"/><stop offset="0.7500" stop-color="#ffb5da"/><stop offset="0.8333" stop-color="#ffabcf"/><stop offset="0.9167" stop-color="#ffa2c5"/><stop offset="1.0000" stop-color="#ff9abb"/></linearGradient>
<linearGradient id="c45"><stop offset="0.0000" stop-color="#abd6ff"/><stop offset="0.0833" stop-color="#b8d6ff"/><stop offset="0.1667" stop-color="#c5d6ff"/><stop offset="0.2500" stop-color="#d3d5ff"/><stop offset="0.3333" stop-color="#e0d5ff"/><stop offset="0.4167" stop-color="#eed4ff"/><stop offset="0.5000" stop-color="#fcd3ff"/><stop offset="0.5833" stop-color="#ffc9f4"/><stop offset="0.6667" stop-color="#ffbee7"/><stop offset="0.7500" stop-color="#ffb4db"/><stop offset="0.8333" stop-color="#ffaad0"/><stop offset="0.9167" stop-color="#ffa1c5"/><stop offset="1.0000" stop-color="#ff98bc"/></linearGradient>
<linearGradient id="c46"><stop offset="0.0000" stop-color="#abd5ff"/><stop offset="0.0833" stop-color="#b8d4ff"/><stop offset="0.1667" stop-color="#c5d4ff"/><stop offset="0.2500" stop-color="#d3d3ff"/><stop offset="0.3333" stop-color="#e0d3ff"/><stop offset="0.4167" stop-color="#eed2ff"/><stop offset="0.5000" stop-color="#fcd1ff"/><stop offset="0.5833" stop-color="#ffc7f4"/><stop offset="0.6667" stop-color="#ffbce7"/><stop offset="0.7500" stop-color="#ffb2db"/><stop offset="0.8333" stop-color="#ffa8d0"/><stop offset="0.9167" stop-color="#ff9fc6"/><stop offset="1.0000" stop-color="#ff97bc"/></linearGradient>
<linearGradient id="c47"><stop offset="0.0000" stop-color="#acd3ff"/><stop offset="0.0833" stop-color="#b8d2ff"/><stop offset="0.1667" stop-color="#c5d2ff"/><stop offset="0.2500" stop-color="#d3d1ff"/><stop offset="0.3333" stop-color="#e0d1ff"/><stop offset="0.4167" stop-color="#eed0ff"/><stop offset="0.5000" stop-color="#fccfff"/><stop offset="0.5833" stop-color="#ffc6f4"/><stop offset="0.6667" stop-color="#ffbbe7"/><stop offset="0.7500" stop-color="#ffb0db"/><stop offset="0.8333" stop-color="#ffa7d0"/><stop offset="0.9167" stop-color="#ff9ec6"/><stop offset="1.0000" stop-color="#ff96bc"/></linearGradient>
<linearGradient id="c48"><stop offset="0.0000" stop-color="#acd1ff"/><stop offset="0.0833" stop-color="#b8d0ff"/><stop offset="0.1667" stop-color="#c5d0ff"/><stop offset="0.2500" stop-color="#d3cfff"/><stop offset="0.3333" stop-color="#e0cfff"/><stop offset="0.4167" stop-color="#eeceff"/><stop offset="0.5000" stop-color="#fccdff"/><stop offset="0.5833" stop-color="#ffc4f4"/><stop offset="0.6667" stop-color="#ffb9e7"/><stop offset="0.7500" stop-color="#ffafdb"/><stop offset="0.8333" stop-color="#ffa5d0"/><stop offset="0.9167" stop-color="#ff9cc6"/><stop offset="1.0000" stop-color="#ff94bd"/></linearGradient>
<linearGradient id="c49"><stop offset="0.0000" stop-color="#accfff"/><stop offset="0.0833" stop-color="#b9ceff"/><stop offset="0.1667" stop-color="#c5ceff"/><stop offset="0.2500" stop-color="#d3cdff"/><stop offset="0.3333" stop-color="#e0cdff"/><stop offset="0.4167" stop-color="#eeccff"/><stop offset="0.5000" stop-color="#fccbff"/><stop offset="0.5833" stop-color="#ffc2f4"/><stop offset="0.6667" stop-color="#ffb7e7"/><stop offset="0.7500" stop-color="#ffaddc"/><stop offset="0.8333" stop-color="#ffa4d1"/><stop offset="0.9167" stop-color="#ff9bc6"/><stop offset="1.0000" stop-color="#ff93bd"/></linearGradient>
<linearGradient id="c50"><stop offset="0.0000" stop-color="#accdff"/><stop offset="0.0833" stop-color="#b9ccff"/><stop offset="0.1667" stop-color="#c6ccff"/><stop offset="0.2500" stop-color="#d3cbff"/><stop offset="0.3333" stop-color="#e0cbff"/><stop offset="0.4167" stop-color="#eecaff"/><stop offset="0.5000" stop-color="#fcc9ff"/><stop offset="0.5833" stop-color="#ffc0f4"/><stop offset="0.6667" stop-color="#ffb5e8"/><stop offset="0.7500" stop-color="#ffabdc"/><stop offset="0.8333" stop-color="#ffa2d1"/><stop offset="0.9167" stop-color="#ff99c7"/><stop offset="1.0000" stop-color="#ff91bd"/></linearGradient>
<linearGradient id="c51"><stop offset="0.0000" stop-color="#accbff"/><stop offset="0.0833" stop-color="#b9cbff"/><stop offset="0.1667" stop-color="#c6caff"/><stop offset="0.2500" stop-color="#d3caff"/><stop offset="0.3333" stop-color="#e0c9ff"/><stop offset="0.4167" stop-color="#eec8ff"/><stop offset="0.5000" stop-color="#fcc8ff"/><stop offset="0.5833" stop-color="#ffbff5"/><stop offset="0.6667" stop-color="#ffb4e8"/><stop offset="0.7500" stop-color="#ffaadc"/><stop offset="0.8333" stop-color="#ffa1d1"/><stop offset="0.9167" stop-color="#ff98c7"/><stop offset="1.0000" stop-color="#ff90bd"/></linearGradient>
<linearGradient id="hg" x1="0" y1="0" x2="0" y2="1"><stop offset="0" stop-color="#0e0e0e"/><stop offset="1" stop-color="#1d1d1d"/></linearGradient>
</defs>
<rect x="43.5" y="181.0" width="474.5" height="330.0" fill="#242424"/>
<line x1="106.77" y1="181.0" x2="106.77" y2="511.0" stroke="#9b9b9b" stroke-width="1.5"/>
<line x1="170.03" y1="181.0" x2="170.03" y2="511.0" stroke="#9b9b9b" stroke-width="1.5"/>
<line x1="233.30" y1="181.0" x2="233.30" y2="511.0" stroke="#9b9b9b" stroke-width="1.5"/>
<line x1="296.57" y1="181.0" x2="296.57" y2="511.0" stroke="#9b9b9b" stroke-width="1.5"/>
<line x1="359.83" y1="181.0" x2="359.83" y2="511.0" stroke="#9b9b9b" stroke-width="1.5"/>
<line x1="423.10" y1="181.0" x2="423.10" y2="511.0" stroke="#9b9b9b" stroke-width="1.5"/>
<line x1="486.37" y1="181.0" x2="486.37" y2="511.0" stroke="#9b9b9b" stroke-width="1.5"/>
<rect x="43.90" y="484.20" width="79.05" height="22.0" fill="url(#b0)" stroke="#000" stroke-width="1.6"/>
<rect x="43.90" y="454.20" width="57.85" height="22.0" fill="url(#b1)" stroke="#000" stroke-width="1.6"/>
<rect x="43.90" y="424.20" width="19.89" height="22.0" fill="url(#b2)" stroke="#000" stroke-width="1.6"/>
<rect x="43.90" y="394.20" width="7.56" height="22.0" fill="url(#b3)" stroke="#000" stroke-width="1.6"/>
<rect x="43.90" y="364.20" width="26.22" height="22.0" fill="url(#b4)" stroke="#000" stroke-width="1.6"/>
<rect x="43.90" y="334.20" width="29.70" height="22.0" fill="url(#b5)" stroke="#000" stroke-width="1.6"/>
<rect x="43.90" y="304.20" width="32.86" height="22.0" fill="url(#b6)" stroke="#000" stroke-width="1.6"/>
<rect x="43.90" y="274.20" width="23.37" height="22.0" fill="url(#b7)" stroke="#000" stroke-width="1.6"/>
<rect x="43.90" y="244.20" width="20.21" height="22.0" fill="url(#b8)" stroke="#000" stroke-width="1.6"/>
<rect x="43.90" y="214.20" width="22.11" height="22.0" fill="url(#b9)" stroke="#000" stroke-width="1.6"/>
<rect x="43.90" y="184.20" width="11.35" height="22.0" fill="url(#b10)" stroke="#000" stroke-width="1.6"/>
<line x1="75.13" y1="181.0" x2="75.13" y2="511.0" stroke="#1c7a20" stroke-width="2.4"/>
<line x1="138.40" y1="181.0" x2="138.40" y2="511.0" stroke="#eeee58" stroke-width="2.3"/>
<line x1="359.83" y1="181.0" x2="359.83" y2="511.0" stroke="#c41a1a" stroke-width="2.5"/>
<rect x="43.5" y="181.0" width="474.5" height="330.0" fill="none" stroke="#a8a8a8" stroke-width="1.6"/>
<line x1="36.0" y1="181.00" x2="42.7" y2="181.00" stroke="#d4d4d4" stroke-width="1.8"/>
<line x1="36.0" y1="211.00" x2="42.7" y2="211.00" stroke="#d4d4d4" stroke-width="1.8"/>
<line x1="36.0" y1="241.00" x2="42.7" y2="241.00" stroke="#d4d4d4" stroke-width="1.8"/>
<line x1="36.0" y1="271.00" x2="42.7" y2="271.00" stroke="#d4d4d4" stroke-width="1.8"/>
<line x1="36.0" y1="301.00" x2="42.7" y2="301.00" stroke="#d4d4d4" stroke-width="1.8"/>
<line x1="36.0" y1="331.00" x2="42.7" y2="331.00" stroke="#d4d4d4" stroke-width="1.8"/>
<line x1="36.0" y1="361.00" x2="42.7" y2="361.00" stroke="#d4d4d4" stroke-width="1.8"/>
<line x1="36.0" y1="391.00" x2="42.7" y2="391.00" stroke="#d4d4d4" stroke-width="1.8"/>
<line x1="36.0" y1="421.00" x2="42.7" y2="421.00" stroke="#d4d4d4" stroke-width="1.8"/>
<line x1="36.0" y1="451.00" x2="42.7" y2="451.00" stroke="#d4d4d4" stroke-width="1.8"/>
<line x1="36.0" y1="481.00" x2="42.7" y2="481.00" stroke="#d4d4d4" stroke-width="1.8"/>
<line x1="36.0" y1="511.00" x2="42.7" y2="511.00" stroke="#d4d4d4" stroke-width="1.8"/>
<line x1="43.50" y1="511.8" x2="43.50" y2="518.0" stroke="#d4d4d4" stroke-width="1.8"/>
<line x1="106.77" y1="511.8" x2="106.77" y2="518.0" stroke="#d4d4d4" stroke-width="1.8"/>
<line x1="170.03" y1="511.8" x2="170.03" y2="518.0" stroke="#d4d4d4" stroke-width="1.8"/>
<line x1="233.30" y1="511.8" x2="233.30" y2="518.0" stroke="#d4d4d4" stroke-width="1.8"/>
<line x1="296.57" y1="511.8" x2="296.57" y2="518.0" stroke="#d4d4d4" stroke-width="1.8"/>
<line x1="359.83" y1="511.8" x2="359.83" y2="518.0" stroke="#d4d4d4" stroke-width="1.8"/>
<line x1="423.10" y1="511.8" x2="423.10" y2="518.0" stroke="#d4d4d4" stroke-width="1.8"/>
<line x1="486.37" y1="511.8" x2="486.37" y2="518.0" stroke="#d4d4d4" stroke-width="1.8"/>
<rect x="581.0" y="116.5" width="616.5999999999999" height="394.0" fill="#242424"/>
<line x1="581.0" y1="156.90" x2="1197.6" y2="156.90" stroke="#9b9b9b" stroke-width="1.5"/>
<line x1="574.0" y1="156.90" x2="580.2" y2="156.90" stroke="#d4d4d4" stroke-width="1.8"/>
<line x1="581.0" y1="235.90" x2="1197.6" y2="235.90" stroke="#9b9b9b" stroke-width="1.5"/>
<line x1="574.0" y1="235.90" x2="580.2" y2="235.90" stroke="#d4d4d4" stroke-width="1.8"/>
<line x1="581.0" y1="315.30" x2="1197.6" y2="315.30" stroke="#9b9b9b" stroke-width="1.5"/>
<line x1="574.0" y1="315.30" x2="580.2" y2="315.30" stroke="#d4d4d4" stroke-width="1.8"/>
<line x1="581.0" y1="393.00" x2="1197.6" y2="393.00" stroke="#9b9b9b" stroke-width="1.5"/>
<line x1="574.0" y1="393.00" x2="580.2" y2="393.00" stroke="#d4d4d4" stroke-width="1.8"/>
<line x1="581.0" y1="472.30" x2="1197.6" y2="472.30" stroke="#9b9b9b" stroke-width="1.5"/>
<line x1="574.0" y1="472.30" x2="580.2" y2="472.30" stroke="#d4d4d4" stroke-width="1.8"/>
<rect x="581.0" y="116.5" width="616.5999999999999" height="394.0" fill="none" stroke="#a8a8a8" stroke-width="1.6"/>
<line x1="581.00" y1="511.3" x2="581.00" y2="517.5" stroke="#d4d4d4" stroke-width="1.8"/>
<line x1="642.66" y1="511.3" x2="642.66" y2="517.5" stroke="#d4d4d4" stroke-width="1.8"/>
<line x1="704.32" y1="511.3" x2="704.32" y2="517.5" stroke="#d4d4d4" stroke-width="1.8"/>
<line x1="765.98" y1="511.3" x2="765.98" y2="517.5" stroke="#d4d4d4" stroke-width="1.8"/>
<line x1="827.64" y1="511.3" x2="827.64" y2="517.5" stroke="#d4d4d4" stroke-width="1.8"/>
<line x1="889.30" y1="511.3" x2="889.30" y2="517.5" stroke="#d4d4d4" stroke-width="1.8"/>
<line x1="950.96" y1="511.3" x2="950.96" y2="517.5" stroke="#d4d4d4" stroke-width="1.8"/>
<line x1="1012.62" y1="511.3" x2="1012.62" y2="517.5" stroke="#d4d4d4" stroke-width="1.8"/>
<line x1="1074.28" y1="511.3" x2="1074.28" y2="517.5" stroke="#d4d4d4" stroke-width="1.8"/>
<line x1="1135.94" y1="511.3" x2="1135.94" y2="517.5" stroke="#d4d4d4" stroke-width="1.8"/>
<line x1="1197.60" y1="511.3" x2="1197.60" y2="517.5" stroke="#d4d4d4" stroke-width="1.8"/>
<polyline points="581.00,295.55 642.66,331.50 704.32,316.49 765.98,311.35 827.64,301.08 889.30,301.08 950.96,299.11 1012.62,301.08 1074.28,301.87 1135.94,300.29 1197.60,313.32" fill="none" stroke="#128a12" stroke-width="3.0" stroke-linejoin="round" clip-path="url(#rgbclip)"/>
<polyline points="581.00,297.92 642.66,342.95 704.32,321.23 765.98,312.93 827.64,304.63 889.30,304.79 950.96,303.73 1012.62,304.63 1074.28,305.23 1135.94,304.83 1197.60,314.91" fill="none" stroke="#ee1818" stroke-width="3.8" stroke-linejoin="round" clip-path="url(#rgbclip)"/>
<polyline points="581.00,277.78 642.66,334.46 704.32,318.46 765.98,313.32 827.64,303.06 889.30,300.76 950.96,299.30 1012.62,304.44 1074.28,305.03 1135.94,300.49 1197.60,311.94" fill="none" stroke="#0808e8" stroke-width="4.2" stroke-linejoin="round" clip-path="url(#rgbclip)"/>
<rect x="1276.0" y="116.5" width="618.2" height="394.0" fill="#242424"/>
<line x1="1276.0" y1="161.80" x2="1894.2" y2="161.80" stroke="#9b9b9b" stroke-width="1.5"/>
<line x1="1269.0" y1="161.80" x2="1275.2" y2="161.80" stroke="#d4d4d4" stroke-width="1.8"/>
<line x1="1276.0" y1="210.10" x2="1894.2" y2="210.10" stroke="#9b9b9b" stroke-width="1.5"/>
<line x1="1269.0" y1="210.10" x2="1275.2" y2="210.10" stroke="#d4d4d4" stroke-width="1.8"/>
<line x1="1276.0" y1="260.40" x2="1894.2" y2="260.40" stroke="#9b9b9b" stroke-width="1.5"/>
<line x1="1269.0" y1="260.40" x2="1275.2" y2="260.40" stroke="#d4d4d4" stroke-width="1.8"/>
<line x1="1276.0" y1="309.00" x2="1894.2" y2="309.00" stroke="#9b9b9b" stroke-width="1.5"/>
<line x1="1269.0" y1="309.00" x2="1275.2" y2="309.00" stroke="#d4d4d4" stroke-width="1.8"/>
<line x1="1276.0" y1="359.30" x2="1894.2" y2="359.30" stroke="#9b9b9b" stroke-width="1.5"/>
<line x1="1269.0" y1="359.30" x2="1275.2" y2="359.30" stroke="#d4d4d4" stroke-width="1.8"/>
<line x1="1276.0" y1="407.40" x2="1894.2" y2="407.40" stroke="#9b9b9b" stroke-width="1.5"/>
<line x1="1269.0" y1="407.40" x2="1275.2" y2="407.40" stroke="#d4d4d4" stroke-width="1.8"/>
<line x1="1276.0" y1="456.30" x2="1894.2" y2="456.30" stroke="#9b9b9b" stroke-width="1.5"/>
<line x1="1269.0" y1="456.30" x2="1275.2" y2="456.30" stroke="#d4d4d4" stroke-width="1.8"/>
<line x1="1276.0" y1="506.80" x2="1894.2" y2="506.80" stroke="#9b9b9b" stroke-width="1.5"/>
<line x1="1269.0" y1="506.80" x2="1275.2" y2="506.80" stroke="#d4d4d4" stroke-width="1.8"/>
<rect x="1276.0" y="116.5" width="618.2" height="394.0" fill="none" stroke="#a8a8a8" stroke-width="1.6"/>
<line x1="1276.00" y1="511.3" x2="1276.00" y2="517.5" stroke="#d4d4d4" stroke-width="1.8"/>
<line x1="1337.82" y1="511.3" x2="1337.82" y2="517.5" stroke="#d4d4d4" stroke-width="1.8"/>
<line x1="1399.64" y1="511.3" x2="1399.64" y2="517.5" stroke="#d4d4d4" stroke-width="1.8"/>
<line x1="1461.46" y1="511.3" x2="1461.46" y2="517.5" stroke="#d4d4d4" stroke-width="1.8"/>
<line x1="1523.28" y1="511.3" x2="1523.28" y2="517.5" stroke="#d4d4d4" stroke-width="1.8"/>
<line x1="1585.10" y1="511.3" x2="1585.10" y2="517.5" stroke="#d4d4d4" stroke-width="1.8"/>
<line x1="1646.92" y1="511.3" x2="1646.92" y2="517.5" stroke="#d4d4d4" stroke-width="1.8"/>
<line x1="1708.74" y1="511.3" x2="1708.74" y2="517.5" stroke="#d4d4d4" stroke-width="1.8"/>
<line x1="1770.56" y1="511.3" x2="1770.56" y2="517.5" stroke="#d4d4d4" stroke-width="1.8"/>
<line x1="1832.38" y1="511.3" x2="1832.38" y2="517.5" stroke="#d4d4d4" stroke-width="1.8"/>
<line x1="1894.20" y1="511.3" x2="1894.20" y2="517.5" stroke="#d4d4d4" stroke-width="1.8"/>
<polyline points="1276.00,434.50 1337.82,230.40 1399.64,221.50 1461.46,216.70 1523.28,219.90 1585.10,216.20 1646.92,218.80 1708.74,214.80 1770.56,219.30 1832.38,253.20 1894.20,190.00" fill="none" stroke="#8d8d8d" stroke-width="3.3" stroke-linejoin="round" clip-path="url(#gclip)"/>
<path d="M1274.80,434.50 L1281.10,361.60 C1282.35,357.40 1286.03,344.57 1288.60,336.40 C1291.17,328.23 1293.85,319.23 1296.50,312.60 C1299.15,305.97 1300.75,302.80 1304.50,296.60 C1308.25,290.40 1313.70,281.80 1319.00,275.40 C1324.30,269.00 1329.00,263.93 1336.30,258.20 C1343.60,252.47 1351.75,246.30 1362.80,241.00 C1373.85,235.70 1389.35,230.25 1402.60,226.40 C1415.85,222.55 1429.05,220.33 1442.30,217.90 C1455.55,215.47 1468.83,213.57 1482.10,211.80 C1495.37,210.03 1508.65,208.58 1521.90,207.30 C1535.15,206.02 1550.25,204.98 1561.60,204.10 C1572.95,203.22 1575.85,202.90 1590.00,202.00 C1604.15,201.10 1626.80,199.77 1646.50,198.70 C1666.20,197.63 1687.62,196.55 1708.20,195.60 C1728.78,194.65 1749.42,193.73 1770.00,193.00 C1790.58,192.27 1811.00,191.73 1831.70,191.20 C1852.40,190.67 1883.78,190.03 1894.20,189.80" fill="none" stroke="#f8f820" stroke-width="3.4" stroke-linejoin="round" clip-path="url(#gclip)"/>
<rect x="0" y="568" width="1920" height="5" fill="url(#ls1)"/>
<rect x="0" y="734" width="1920" height="10" fill="url(#ls2)"/>
<rect x="0" y="572.5" width="1920" height="162.2" fill="#000"/>
<rect x="282.5" y="597" width="1522" height="130" fill="#030303"/>
<rect x="307.85" y="603.1" width="115.7" height="41.8" fill="#06070c" stroke="#fafafa" stroke-width="1.7"/>
<rect x="307.85" y="657.7" width="115.7" height="41.6" fill="#000000" stroke="#fafafa" stroke-width="1.7"/>
<rect x="444.75" y="603.1" width="115.7" height="41.8" fill="#181a19" stroke="#fafafa" stroke-width="1.7"/>
<rect x="444.75" y="657.7" width="115.7" height="41.6" fill="#1c1c1c" stroke="#fafafa" stroke-width="1.7"/>
<rect x="581.65" y="603.1" width="115.7" height="41.8" fill="#333333" stroke="#fafafa" stroke-width="1.7"/>
<rect x="581.65" y="657.7" width="115.7" height="41.6" fill="#353535" stroke="#fafafa" stroke-width="1.7"/>
<rect x="718.55" y="603.1" width="115.7" height="41.8" fill="#4f4d4e" stroke="#fafafa" stroke-width="1.7"/>
<rect x="718.55" y="657.7" width="115.7" height="41.6" fill="#4e4e4e" stroke="#fafafa" stroke-width="1.7"/>
<rect x="855.45" y="603.1" width="115.7" height="41.8" fill="#6c6c6c" stroke="#fafafa" stroke-width="1.7"/>
<rect x="855.45" y="657.7" width="115.7" height="41.6" fill="#696969" stroke="#fafafa" stroke-width="1.7"/>
<rect x="992.35" y="603.1" width="115.7" height="41.8" fill="#838383" stroke="#fafafa" stroke-width="1.7"/>
<rect x="992.35" y="657.7" width="115.7" height="41.6" fill="#828282" stroke="#fafafa" stroke-width="1.7"/>
<rect x="1129.25" y="603.1" width="115.7" height="41.8" fill="#9b9b9b" stroke="#fafafa" stroke-width="1.7"/>
<rect x="1129.25" y="657.7" width="115.7" height="41.6" fill="#9a9a9a" stroke="#fafafa" stroke-width="1.7"/>
<rect x="1266.15" y="603.1" width="115.7" height="41.8" fill="#b4b4b4" stroke="#fafafa" stroke-width="1.7"/>
<rect x="1266.15" y="657.7" width="115.7" height="41.6" fill="#b3b3b3" stroke="#fafafa" stroke-width="1.7"/>
<rect x="1403.05" y="603.1" width="115.7" height="41.8" fill="#cecece" stroke="#fafafa" stroke-width="1.7"/>
<rect x="1403.05" y="657.7" width="115.7" height="41.6" fill="#cccccc" stroke="#fafafa" stroke-width="1.7"/>
<rect x="1539.95" y="603.1" width="115.7" height="41.8" fill="#e8e8e8" stroke="#fafafa" stroke-width="1.7"/>
<rect x="1539.95" y="657.7" width="115.7" height="41.6" fill="#e6e6e6" stroke="#fafafa" stroke-width="1.7"/>
<rect x="1676.85" y="603.1" width="115.7" height="41.8" fill="#ffffff" stroke="#fafafa" stroke-width="1.7"/>
<rect x="1676.85" y="657.7" width="115.7" height="41.6" fill="#ffffff" stroke="#fafafa" stroke-width="1.7"/>
<path d="M379.2,742.5 H728.5 V998.9 H379.2 Z M388.0,751.4 V993.3 H719.3 V751.4 Z" fill="#c5c408" fill-rule="evenodd"/>
<rect x="388.0" y="751.4" width="331.3" height="241.9" fill="#343434"/>
<rect x="432.0" y="753.80" width="283.4" height="4.60" fill="url(#c0)" clip-path="url(#cclip)"/>
<rect x="432.0" y="757.80" width="283.4" height="4.60" fill="url(#c1)" clip-path="url(#cclip)"/>
<rect x="432.0" y="761.80" width="283.4" height="4.60" fill="url(#c2)" clip-path="url(#cclip)"/>
<rect x="432.0" y="765.80" width="283.4" height="4.60" fill="url(#c3)" clip-path="url(#cclip)"/>
<rect x="432.0" y="769.80" width="283.4" height="4.60" fill="url(#c4)" clip-path="url(#cclip)"/>
<rect x="432.0" y="773.80" width="283.4" height="4.60" fill="url(#c5)" clip-path="url(#cclip)"/>
<rect x="432.0" y="777.80" width="283.4" height="4.60" fill="url(#c6)" clip-path="url(#cclip)"/>
<rect x="432.0" y="781.80" width="283.4" height="4.60" fill="url(#c7)" clip-path="url(#cclip)"/>
<rect x="432.0" y="785.80" width="283.4" height="4.60" fill="url(#c8)" clip-path="url(#cclip)"/>
<rect x="432.0" y="789.80" width="283.4" height="4.60" fill="url(#c9)" clip-path="url(#cclip)"/>
<rect x="432.0" y="793.80" width="283.4" height="4.60" fill="url(#c10)" clip-path="url(#cclip)"/>
<rect x="432.0" y="797.80" width="283.4" height="4.60" fill="url(#c11)" clip-path="url(#cclip)"/>
<rect x="432.0" y="801.80" width="283.4" height="4.60" fill="url(#c12)" clip-path="url(#cclip)"/>
<rect x="432.0" y="805.80" width="283.4" height="4.60" fill="url(#c13)" clip-path="url(#cclip)"/>
<rect x="432.0" y="809.80" width="283.4" height="4.60" fill="url(#c14)" clip-path="url(#cclip)"/>
<rect x="432.0" y="813.80" width="283.4" height="4.60" fill="url(#c15)" clip-path="url(#cclip)"/>
<rect x="432.0" y="817.80" width="283.4" height="4.60" fill="url(#c16)" clip-path="url(#cclip)"/>
<rect x="432.0" y="821.80" width="283.4" height="4.60" fill="url(#c17)" clip-path="url(#cclip)"/>
<rect x="432.0" y="825.80" width="283.4" height="4.60" fill="url(#c18)" clip-path="url(#cclip)"/>
<rect x="432.0" y="829.80" width="283.4" height="4.60" fill="url(#c19)" clip-path="url(#cclip)"/>
<rect x="432.0" y="833.80" width="283.4" height="4.60" fill="url(#c20)" clip-path="url(#cclip)"/>
<rect x="432.0" y="837.80" width="283.4" height="4.60" fill="url(#c21)" clip-path="url(#cclip)"/>
<rect x="432.0" y="841.80" width="283.4" height="4.60" fill="url(#c22)" clip-path="url(#cclip)"/>
<rect x="432.0" y="845.80" width="283.4" height="4.60" fill="url(#c23)" clip-path="url(#cclip)"/>
<rect x="432.0" y="849.80" width="283.4" height="4.60" fill="url(#c24)" clip-path="url(#cclip)"/>
<rect x="432.0" y="853.80" width="283.4" height="4.60" fill="url(#c25)" clip-path="url(#cclip)"/>
<rect x="432.0" y="857.80" width="283.4" height="4.60" fill="url(#c26)" clip-path="url(#cclip)"/>
<rect x="432.0" y="861.80" width="283.4" height="4.60" fill="url(#c27)" clip-path="url(#cclip)"/>
<rect x="432.0" y="865.80" width="283.4" height="4.60" fill="url(#c28)" clip-path="url(#cclip)"/>
<rect x="432.0" y="869.80" width="283.4" height="4.60" fill="url(#c29)" clip-path="url(#cclip)"/>
<rect x="432.0" y="873.80" width="283.4" height="4.60" fill="url(#c30)" clip-path="url(#cclip)"/>
<rect x="432.0" y="877.80" width="283.4" height="4.60" fill="url(#c31)" clip-path="url(#cclip)"/>
<rect x="432.0" y="881.80" width="283.4" height="4.60" fill="url(#c32)" clip-path="url(#cclip)"/>
<rect x="432.0" y="885.80" width="283.4" height="4.60" fill="url(#c33)" clip-path="url(#cclip)"/>
<rect x="432.0" y="889.80" width="283.4" height="4.60" fill="url(#c34)" clip-path="url(#cclip)"/>
<rect x="432.0" y="893.80" width="283.4" height="4.60" fill="url(#c35)" clip-path="url(#cclip)"/>
<rect x="432.0" y="897.80" width="283.4" height="4.60" fill="url(#c36)" clip-path="url(#cclip)"/>
<rect x="432.0" y="901.80" width="283.4" height="4.60" fill="url(#c37)" clip-path="url(#cclip)"/>
<rect x="432.0" y="905.80" width="283.4" height="4.60" fill="url(#c38)" clip-path="url(#cclip)"/>
<rect x="432.0" y="909.80" width="283.4" height="4.60" fill="url(#c39)" clip-path="url(#cclip)"/>
<rect x="432.0" y="913.80" width="283.4" height="4.60" fill="url(#c40)" clip-path="url(#cclip)"/>
<rect x="432.0" y="917.80" width="283.4" height="4.60" fill="url(#c41)" clip-path="url(#cclip)"/>
<rect x="432.0" y="921.80" width="283.4" height="4.60" fill="url(#c42)" clip-path="url(#cclip)"/>
<rect x="432.0" y="925.80" width="283.4" height="4.60" fill="url(#c43)" clip-path="url(#cclip)"/>
<rect x="432.0" y="929.80" width="283.4" height="4.60" fill="url(#c44)" clip-path="url(#cclip)"/>
<rect x="432.0" y="933.80" width="283.4" height="4.60" fill="url(#c45)" clip-path="url(#cclip)"/>
<rect x="432.0" y="937.80" width="283.4" height="4.60" fill="url(#c46)" clip-path="url(#cclip)"/>
<rect x="432.0" y="941.80" width="283.4" height="4.60" fill="url(#c47)" clip-path="url(#cclip)"/>
<rect x="432.0" y="945.80" width="283.4" height="4.60" fill="url(#c48)" clip-path="url(#cclip)"/>
<rect x="432.0" y="949.80" width="283.4" height="4.60" fill="url(#c49)" clip-path="url(#cclip)"/>
<rect x="432.0" y="953.80" width="283.4" height="4.60" fill="url(#c50)" clip-path="url(#cclip)"/>
<rect x="432.0" y="957.80" width="283.4" height="2.00" fill="url(#c51)" clip-path="url(#cclip)"/>
<path d="M431.5,753.1999999999999 H716.1999999999999" stroke="#5c5c5c" stroke-width="1.4" fill="none"/>
<path d="M716.0,753.1999999999999 V959.7" stroke="#505050" stroke-width="1.4" fill="none"/>
<path d="M431.5,959.7 H716.1999999999999" stroke="#a0a0a0" stroke-width="1.3" fill="none"/>
<path d="M431.8,753.8 V959.7" stroke="#b8c8c8" stroke-opacity="0.7" stroke-width="1.0" fill="none"/>
<path d="M465.6,962.8 L470.6,958.8 Q592.75,861.7 714.9,788.4 L717.9,786.6" fill="none" stroke="#050508" stroke-width="3.4" clip-path="url(#cclip)"/>
<line x1="425.0" y1="770.60" x2="431.5" y2="770.60" stroke="#d4d4d4" stroke-width="1.8"/>
<line x1="425.0" y1="811.70" x2="431.5" y2="811.70" stroke="#d4d4d4" stroke-width="1.8"/>
<line x1="425.0" y1="852.80" x2="431.5" y2="852.80" stroke="#d4d4d4" stroke-width="1.8"/>
<line x1="425.0" y1="893.90" x2="431.5" y2="893.90" stroke="#d4d4d4" stroke-width="1.8"/>
<line x1="425.0" y1="935.00" x2="431.5" y2="935.00" stroke="#d4d4d4" stroke-width="1.8"/>
<line x1="443.70" y1="960.2" x2="443.70" y2="966.6" stroke="#d4d4d4" stroke-width="1.8"/>
<line x1="500.50" y1="960.2" x2="500.50" y2="966.6" stroke="#d4d4d4" stroke-width="1.8"/>
<line x1="557.30" y1="960.2" x2="557.30" y2="966.6" stroke="#d4d4d4" stroke-width="1.8"/>
<line x1="614.10" y1="960.2" x2="614.10" y2="966.6" stroke="#d4d4d4" stroke-width="1.8"/>
<line x1="670.90" y1="960.2" x2="670.90" y2="966.6" stroke="#d4d4d4" stroke-width="1.8"/>
<circle cx="534.6" cy="842.4" r="5.2" fill="#222" stroke="#000" stroke-width="1"/>
<rect x="565.1" y="849.5" width="16.2" height="15.6" fill="#fff" stroke="#000" stroke-width="1.5"/>
<circle cx="580.3" cy="851.4" r="5" fill="#484848" stroke="#000" stroke-width="1.1"/>
<circle cx="565.6" cy="853.0" r="5" fill="#333" stroke="#000" stroke-width="1.1"/>
<circle cx="568.0" cy="852.2" r="5" fill="#555" stroke="#000" stroke-width="1.1"/>
<circle cx="577.0" cy="852.2" r="5" fill="#bbb" stroke="#000" stroke-width="1.1"/>
<circle cx="570.0" cy="855.4" r="5" fill="#ddd" stroke="#000" stroke-width="1.1"/>
<circle cx="574.0" cy="853.8" r="5" fill="#eee" stroke="#000" stroke-width="1.1"/>
<circle cx="571.4" cy="855.0" r="5" fill="#fff" stroke="#000" stroke-width="1.1"/>
<rect x="729.0" y="744.5" width="1044.4" height="16.399999999999977" fill="#2c2c2c"/>
<rect x="729.0" y="760.9" width="1044.4" height="16.800000000000068" fill="url(#hg)"/>
<rect x="729.0" y="744.5" width="16.4" height="33.200000000000045" fill="#000"/>
<rect x="745.4" y="777.7" width="1028.0" height="30.0" fill="#404040"/>
<rect x="729.0" y="777.7" width="16.4" height="30.0" fill="#2f2f2f"/>
<rect x="745.4" y="807.7" width="1028.0" height="31.199999999999932" fill="#7e7e7e"/>
<rect x="729.0" y="807.7" width="16.4" height="31.199999999999932" fill="#3a3a3a"/>
<rect x="745.4" y="838.9" width="1028.0" height="31.100000000000023" fill="#404040"/>
<rect x="729.0" y="838.9" width="16.4" height="31.100000000000023" fill="#2f2f2f"/>
<rect x="745.4" y="870.0" width="1028.0" height="30.600000000000023" fill="#7e7e7e"/>
<rect x="729.0" y="870.0" width="16.4" height="30.600000000000023" fill="#3a3a3a"/>
<rect x="745.4" y="900.6" width="1028.0" height="30.399999999999977" fill="#404040"/>
<rect x="729.0" y="900.6" width="16.4" height="30.399999999999977" fill="#2f2f2f"/>
<rect x="745.4" y="931.0" width="1028.0" height="30.700000000000045" fill="#7e7e7e"/>
<rect x="729.0" y="931.0" width="16.4" height="30.700000000000045" fill="#3a3a3a"/>
<rect x="745.4" y="961.7" width="1028.0" height="31.0" fill="#404040"/>
<rect x="729.0" y="961.7" width="16.4" height="31.0" fill="#2f2f2f"/>
</svg>
<div id="tx">
<span class="t" style="left:18.00px;top:42.77px;font-size:47.97px;color:#f2f2f2;transform:scaleX(0.9266);">Grayscale</span>
<span class="t" style="left:139.00px;top:103.24px;font-size:35.61px;color:#f2f2f2;transform:scaleX(0.9775);">dE Average:</span>
<span class="t" style="left:337.60px;top:103.24px;font-size:35.61px;color:#f2f2f2;transform:scaleX(1.0318);">0,83</span>
<span class="t" style="left:730.00px;top:37.62px;font-size:36.34px;color:#f2f2f2;transform:scaleX(0.9838);">Total Gamma:</span>
<span class="t" style="left:964.00px;top:37.62px;font-size:36.34px;color:#f2f2f2;transform:scaleX(0.9761);">2,34</span>
<span class="t" style="left:1463.40px;top:37.62px;font-size:36.34px;color:#f2f2f2;transform:scaleX(0.8886);">CCT Avg:</span>
<span class="t" style="left:1611.00px;top:37.62px;font-size:36.34px;color:#f2f2f2;transform:scaleX(1.0082);">6551</span>
<span class="t" style="left:218.00px;top:160.63px;font-size:17.44px;color:#dcdcdc;transform:scaleX(0.9900);">DeltaE 2000</span>
<span class="t" style="left:823.00px;top:96.26px;font-size:17.88px;color:#dcdcdc;transform:scaleX(0.9160);">RGB Balance</span>
<span class="t" style="left:1505.00px;top:96.26px;font-size:17.88px;color:#dcdcdc;transform:scaleX(0.9764);">Gamma Log/Log</span>
<span class="t" style="left:32.66px;top:490.38px;font-size:17.14px;color:#dcdcdc;transform:scaleX(0.9800);">0</span>
<span class="t" style="left:23.31px;top:460.38px;font-size:17.14px;color:#dcdcdc;transform:scaleX(0.9800);">10</span>
<span class="t" style="left:23.31px;top:430.38px;font-size:17.14px;color:#dcdcdc;transform:scaleX(0.9800);">20</span>
<span class="t" style="left:23.31px;top:400.38px;font-size:17.14px;color:#dcdcdc;transform:scaleX(0.9800);">30</span>
<span class="t" style="left:23.31px;top:370.38px;font-size:17.14px;color:#dcdcdc;transform:scaleX(0.9800);">40</span>
<span class="t" style="left:23.31px;top:340.38px;font-size:17.14px;color:#dcdcdc;transform:scaleX(0.9800);">50</span>
<span class="t" style="left:23.31px;top:310.38px;font-size:17.14px;color:#dcdcdc;transform:scaleX(0.9800);">60</span>
<span class="t" style="left:23.31px;top:280.38px;font-size:17.14px;color:#dcdcdc;transform:scaleX(0.9800);">70</span>
<span class="t" style="left:23.31px;top:250.38px;font-size:17.14px;color:#dcdcdc;transform:scaleX(0.9800);">80</span>
<span class="t" style="left:23.31px;top:220.38px;font-size:17.14px;color:#dcdcdc;transform:scaleX(0.9800);">90</span>
<span class="t" style="left:13.97px;top:190.38px;font-size:17.14px;color:#dcdcdc;transform:scaleX(0.9800);">100</span>
<span class="t" style="left:38.83px;top:522.68px;font-size:17.14px;color:#dcdcdc;transform:scaleX(0.9800);">0</span>
<span class="t" style="left:102.09px;top:522.68px;font-size:17.14px;color:#dcdcdc;transform:scaleX(0.9800);">2</span>
<span class="t" style="left:165.36px;top:522.68px;font-size:17.14px;color:#dcdcdc;transform:scaleX(0.9800);">4</span>
<span class="t" style="left:228.63px;top:522.68px;font-size:17.14px;color:#dcdcdc;transform:scaleX(0.9800);">6</span>
<span class="t" style="left:291.89px;top:522.68px;font-size:17.14px;color:#dcdcdc;transform:scaleX(0.9800);">8</span>
<span class="t" style="left:350.49px;top:522.68px;font-size:17.14px;color:#dcdcdc;transform:scaleX(0.9800);">10</span>
<span class="t" style="left:413.76px;top:522.68px;font-size:17.14px;color:#dcdcdc;transform:scaleX(0.9800);">12</span>
<span class="t" style="left:477.02px;top:522.68px;font-size:17.14px;color:#dcdcdc;transform:scaleX(0.9800);">14</span>
<span class="t" style="left:554.31px;top:149.28px;font-size:17.14px;color:#dcdcdc;transform:scaleX(0.9800);">40</span>
<span class="t" style="left:554.31px;top:228.28px;font-size:17.14px;color:#dcdcdc;transform:scaleX(0.9800);">20</span>
<span class="t" style="left:563.66px;top:307.68px;font-size:17.14px;color:#dcdcdc;transform:scaleX(0.9800);">0</span>
<span class="t" style="left:548.72px;top:385.38px;font-size:17.14px;color:#dcdcdc;transform:scaleX(0.9800);">-20</span>
<span class="t" style="left:548.72px;top:464.68px;font-size:17.14px;color:#dcdcdc;transform:scaleX(0.9800);">-40</span>
<span class="t" style="left:576.33px;top:522.68px;font-size:17.14px;color:#dcdcdc;transform:scaleX(0.9800);">0</span>
<span class="t" style="left:633.32px;top:522.68px;font-size:17.14px;color:#dcdcdc;transform:scaleX(0.9800);">10</span>
<span class="t" style="left:694.98px;top:522.68px;font-size:17.14px;color:#dcdcdc;transform:scaleX(0.9800);">20</span>
<span class="t" style="left:756.64px;top:522.68px;font-size:17.14px;color:#dcdcdc;transform:scaleX(0.9800);">30</span>
<span class="t" style="left:818.30px;top:522.68px;font-size:17.14px;color:#dcdcdc;transform:scaleX(0.9800);">40</span>
<span class="t" style="left:879.96px;top:522.68px;font-size:17.14px;color:#dcdcdc;transform:scaleX(0.9800);">50</span>
<span class="t" style="left:941.62px;top:522.68px;font-size:17.14px;color:#dcdcdc;transform:scaleX(0.9800);">60</span>
<span class="t" style="left:1003.28px;top:522.68px;font-size:17.14px;color:#dcdcdc;transform:scaleX(0.9800);">70</span>
<span class="t" style="left:1064.94px;top:522.68px;font-size:17.14px;color:#dcdcdc;transform:scaleX(0.9800);">80</span>
<span class="t" style="left:1126.60px;top:522.68px;font-size:17.14px;color:#dcdcdc;transform:scaleX(0.9800);">90</span>
<span class="t" style="left:1183.58px;top:522.68px;font-size:17.14px;color:#dcdcdc;transform:scaleX(0.9800);">100</span>
<span class="t" style="left:1244.65px;top:154.18px;font-size:17.14px;color:#dcdcdc;transform:scaleX(0.9800);">2,4</span>
<span class="t" style="left:1244.65px;top:202.48px;font-size:17.14px;color:#dcdcdc;transform:scaleX(0.9800);">2,2</span>
<span class="t" style="left:1258.66px;top:252.78px;font-size:17.14px;color:#dcdcdc;transform:scaleX(0.9800);">2</span>
<span class="t" style="left:1244.65px;top:301.38px;font-size:17.14px;color:#dcdcdc;transform:scaleX(0.9800);">1,8</span>
<span class="t" style="left:1244.65px;top:351.68px;font-size:17.14px;color:#dcdcdc;transform:scaleX(0.9800);">1,6</span>
<span class="t" style="left:1244.65px;top:399.78px;font-size:17.14px;color:#dcdcdc;transform:scaleX(0.9800);">1,4</span>
<span class="t" style="left:1244.65px;top:448.68px;font-size:17.14px;color:#dcdcdc;transform:scaleX(0.9800);">1,2</span>
<span class="t" style="left:1258.66px;top:499.18px;font-size:17.14px;color:#dcdcdc;transform:scaleX(0.9800);">1</span>
<span class="t" style="left:1271.33px;top:522.68px;font-size:17.14px;color:#dcdcdc;transform:scaleX(0.9800);">0</span>
<span class="t" style="left:1328.48px;top:522.68px;font-size:17.14px;color:#dcdcdc;transform:scaleX(0.9800);">10</span>
<span class="t" style="left:1390.30px;top:522.68px;font-size:17.14px;color:#dcdcdc;transform:scaleX(0.9800);">20</span>
<span class="t" style="left:1452.12px;top:522.68px;font-size:17.14px;color:#dcdcdc;transform:scaleX(0.9800);">30</span>
<span class="t" style="left:1513.94px;top:522.68px;font-size:17.14px;color:#dcdcdc;transform:scaleX(0.9800);">40</span>
<span class="t" style="left:1575.76px;top:522.68px;font-size:17.14px;color:#dcdcdc;transform:scaleX(0.9800);">50</span>
<span class="t" style="left:1637.58px;top:522.68px;font-size:17.14px;color:#dcdcdc;transform:scaleX(0.9800);">60</span>
<span class="t" style="left:1699.40px;top:522.68px;font-size:17.14px;color:#dcdcdc;transform:scaleX(0.9800);">70</span>
<span class="t" style="left:1761.22px;top:522.68px;font-size:17.14px;color:#dcdcdc;transform:scaleX(0.9800);">80</span>
<span class="t" style="left:1823.04px;top:522.68px;font-size:17.14px;color:#dcdcdc;transform:scaleX(0.9800);">90</span>
<span class="t" style="left:1880.18px;top:522.68px;font-size:17.14px;color:#dcdcdc;transform:scaleX(0.9800);">100</span>
<span class="t" style="left:361.71px;top:703.84px;font-size:14.00px;color:#f4f4f4;">0</span>
<span class="t" style="left:494.71px;top:703.84px;font-size:14.00px;color:#f4f4f4;">10</span>
<span class="t" style="left:631.61px;top:703.84px;font-size:14.00px;color:#f4f4f4;">20</span>
<span class="t" style="left:768.51px;top:703.84px;font-size:14.00px;color:#f4f4f4;">30</span>
<span class="t" style="left:905.41px;top:703.84px;font-size:14.00px;color:#f4f4f4;">40</span>
<span class="t" style="left:1042.31px;top:703.84px;font-size:14.00px;color:#f4f4f4;">50</span>
<span class="t" style="left:1179.21px;top:703.84px;font-size:14.00px;color:#f4f4f4;">60</span>
<span class="t" style="left:1316.11px;top:703.84px;font-size:14.00px;color:#f4f4f4;">70</span>
<span class="t" style="left:1453.01px;top:703.84px;font-size:14.00px;color:#f4f4f4;">80</span>
<span class="t" style="left:1589.91px;top:703.84px;font-size:14.00px;color:#f4f4f4;">90</span>
<span class="t" style="left:1722.92px;top:703.84px;font-size:14.00px;color:#f4f4f4;">100</span>
<span class="t" style="left:7.00px;top:751.26px;font-size:35.47px;color:#f2f2f2;transform:scaleX(1.0070);">Current Reading</span>
<span class="t" style="left:8.10px;top:807.24px;font-size:29.00px;color:#f2f2f2;transform:scaleX(0.9958);">x:</span>
<span class="t" style="left:37.20px;top:807.24px;font-size:29.00px;color:#f2f2f2;transform:scaleX(1.0332);">0,3125</span>
<span class="t" style="left:8.10px;top:855.24px;font-size:29.00px;color:#f2f2f2;transform:scaleX(1.0388);">y:</span>
<span class="t" style="left:38.40px;top:855.24px;font-size:29.00px;color:#f2f2f2;transform:scaleX(1.0352);">0,3293</span>
<span class="t" style="left:8.10px;top:903.64px;font-size:29.00px;color:#f2f2f2;transform:scaleX(0.9906);">fL:</span>
<span class="t" style="left:47.20px;top:903.64px;font-size:29.00px;color:#f2f2f2;transform:scaleX(1.0308);">38,461</span>
<span class="t" style="left:7.20px;top:951.74px;font-size:29.00px;color:#f2f2f2;transform:scaleX(1.1392);">cd/m²:</span>
<span class="t" style="left:106.00px;top:951.74px;font-size:29.00px;color:#f2f2f2;transform:scaleX(1.0289);">131,776</span>
<span class="t" style="left:391.30px;top:762.98px;font-size:17.14px;color:#dcdcdc;transform:scaleX(0.9800);">0,35</span>
<span class="t" style="left:391.30px;top:804.08px;font-size:17.14px;color:#dcdcdc;transform:scaleX(0.9800);">0,34</span>
<span class="t" style="left:391.30px;top:845.18px;font-size:17.14px;color:#dcdcdc;transform:scaleX(0.9800);">0,33</span>
<span class="t" style="left:391.30px;top:886.28px;font-size:17.14px;color:#dcdcdc;transform:scaleX(0.9800);">0,32</span>
<span class="t" style="left:391.30px;top:927.38px;font-size:17.14px;color:#dcdcdc;transform:scaleX(0.9800);">0,31</span>
<span class="t" style="left:427.35px;top:971.88px;font-size:17.14px;color:#dcdcdc;transform:scaleX(0.9800);">0,29</span>
<span class="t" style="left:488.82px;top:971.88px;font-size:17.14px;color:#dcdcdc;transform:scaleX(0.9800);">0,3</span>
<span class="t" style="left:540.95px;top:971.88px;font-size:17.14px;color:#dcdcdc;transform:scaleX(0.9800);">0,31</span>
<span class="t" style="left:597.75px;top:971.88px;font-size:17.14px;color:#dcdcdc;transform:scaleX(0.9800);">0,32</span>
<span class="t" style="left:654.55px;top:971.88px;font-size:17.14px;color:#dcdcdc;transform:scaleX(0.9800);">0,33</span>
<span class="t" style="left:904.60px;top:754.44px;font-size:17.43px;color:#ffffff;transform:scaleX(0.9900);-webkit-text-stroke:0.15px currentColor;">0</span>
<span class="t" style="left:993.60px;top:754.44px;font-size:17.43px;color:#ffffff;transform:scaleX(0.9900);-webkit-text-stroke:0.15px currentColor;">10</span>
<span class="t" style="left:1071.80px;top:754.44px;font-size:17.43px;color:#ffffff;transform:scaleX(0.9900);-webkit-text-stroke:0.15px currentColor;">20</span>
<span class="t" style="left:1150.20px;top:754.44px;font-size:17.43px;color:#ffffff;transform:scaleX(0.9900);-webkit-text-stroke:0.15px currentColor;">30</span>
<span class="t" style="left:1228.60px;top:754.44px;font-size:17.43px;color:#ffffff;transform:scaleX(0.9900);-webkit-text-stroke:0.15px currentColor;">40</span>
<span class="t" style="left:1308.00px;top:754.44px;font-size:17.43px;color:#ffffff;transform:scaleX(0.9900);-webkit-text-stroke:0.15px currentColor;">50</span>
<span class="t" style="left:1385.90px;top:754.44px;font-size:17.43px;color:#ffffff;transform:scaleX(0.9900);-webkit-text-stroke:0.15px currentColor;">60</span>
<span class="t" style="left:1464.80px;top:754.44px;font-size:17.43px;color:#ffffff;transform:scaleX(0.9900);-webkit-text-stroke:0.15px currentColor;">70</span>
<span class="t" style="left:1543.20px;top:754.44px;font-size:17.43px;color:#ffffff;transform:scaleX(0.9900);-webkit-text-stroke:0.15px currentColor;">80</span>
<span class="t" style="left:1621.00px;top:754.44px;font-size:17.43px;color:#ffffff;transform:scaleX(0.9900);-webkit-text-stroke:0.15px currentColor;">90</span>
<span class="t" style="left:1699.60px;top:754.44px;font-size:17.43px;color:#ffffff;transform:scaleX(0.9900);-webkit-text-stroke:0.15px currentColor;">100</span>
<span class="t" style="left:750.80px;top:784.05px;font-size:19.19px;color:#f6f6f6;transform:scaleX(0.8890);-webkit-text-stroke:0;">x: CIE31</span>
<span class="t" style="left:904.60px;top:784.05px;font-size:19.19px;color:#f6f6f6;transform:scaleX(0.9550);-webkit-text-stroke:0;">0,26</span>
<span class="t" style="left:993.60px;top:784.05px;font-size:19.19px;color:#f6f6f6;transform:scaleX(0.9550);-webkit-text-stroke:0;">0,31</span>
<span class="t" style="left:1071.80px;top:784.05px;font-size:19.19px;color:#f6f6f6;transform:scaleX(0.9550);-webkit-text-stroke:0;">0,31</span>
<span class="t" style="left:1150.20px;top:784.05px;font-size:19.19px;color:#f6f6f6;transform:scaleX(0.9550);-webkit-text-stroke:0;">0,31</span>
<span class="t" style="left:1228.60px;top:784.05px;font-size:19.19px;color:#f6f6f6;transform:scaleX(0.9550);-webkit-text-stroke:0;">0,31</span>
<span class="t" style="left:1308.00px;top:784.05px;font-size:19.19px;color:#f6f6f6;transform:scaleX(0.9550);-webkit-text-stroke:0;">0,31</span>
<span class="t" style="left:1385.90px;top:784.05px;font-size:19.19px;color:#f6f6f6;transform:scaleX(0.9550);-webkit-text-stroke:0;">0,31</span>
<span class="t" style="left:1464.80px;top:784.05px;font-size:19.19px;color:#f6f6f6;transform:scaleX(0.9550);-webkit-text-stroke:0;">0,31</span>
<span class="t" style="left:1543.20px;top:784.05px;font-size:19.19px;color:#f6f6f6;transform:scaleX(0.9550);-webkit-text-stroke:0;">0,31</span>
<span class="t" style="left:1621.00px;top:784.05px;font-size:19.19px;color:#f6f6f6;transform:scaleX(0.9550);-webkit-text-stroke:0;">0,31</span>
<span class="t" style="left:1699.60px;top:784.05px;font-size:19.19px;color:#f6f6f6;transform:scaleX(0.9550);-webkit-text-stroke:0;">0,31</span>
<span class="t" style="left:750.60px;top:814.05px;font-size:19.19px;color:#efefef;transform:scaleX(0.8945);-webkit-text-stroke:0;">y: CIE31</span>
<span class="t" style="left:904.60px;top:814.05px;font-size:19.19px;color:#efefef;transform:scaleX(0.9550);-webkit-text-stroke:0;">0,25</span>
<span class="t" style="left:993.60px;top:814.05px;font-size:19.19px;color:#efefef;transform:scaleX(0.9550);-webkit-text-stroke:0;">0,33</span>
<span class="t" style="left:1071.80px;top:814.05px;font-size:19.19px;color:#efefef;transform:scaleX(0.9550);-webkit-text-stroke:0;">0,33</span>
<span class="t" style="left:1150.20px;top:814.05px;font-size:19.19px;color:#efefef;transform:scaleX(0.9550);-webkit-text-stroke:0;">0,33</span>
<span class="t" style="left:1228.60px;top:814.05px;font-size:19.19px;color:#efefef;transform:scaleX(0.9550);-webkit-text-stroke:0;">0,33</span>
<span class="t" style="left:1308.00px;top:814.05px;font-size:19.19px;color:#efefef;transform:scaleX(0.9550);-webkit-text-stroke:0;">0,33</span>
<span class="t" style="left:1385.90px;top:814.05px;font-size:19.19px;color:#efefef;transform:scaleX(0.9550);-webkit-text-stroke:0;">0,33</span>
<span class="t" style="left:1464.80px;top:814.05px;font-size:19.19px;color:#efefef;transform:scaleX(0.9550);-webkit-text-stroke:0;">0,33</span>
<span class="t" style="left:1543.20px;top:814.05px;font-size:19.19px;color:#efefef;transform:scaleX(0.9550);-webkit-text-stroke:0;">0,33</span>
<span class="t" style="left:1621.00px;top:814.05px;font-size:19.19px;color:#efefef;transform:scaleX(0.9550);-webkit-text-stroke:0;">0,33</span>
<span class="t" style="left:1699.60px;top:814.05px;font-size:19.19px;color:#efefef;transform:scaleX(0.9550);-webkit-text-stroke:0;">0,33</span>
<span class="t" style="left:750.80px;top:845.25px;font-size:19.19px;color:#f6f6f6;transform:scaleX(0.7814);-webkit-text-stroke:0;">Y</span>
<span class="t" style="left:904.60px;top:845.25px;font-size:19.19px;color:#f6f6f6;transform:scaleX(0.9550);-webkit-text-stroke:0;">0,25</span>
<span class="t" style="left:993.60px;top:845.25px;font-size:19.19px;color:#f6f6f6;transform:scaleX(0.9550);-webkit-text-stroke:0;">1,07</span>
<span class="t" style="left:1071.80px;top:845.25px;font-size:19.19px;color:#f6f6f6;transform:scaleX(0.9550);-webkit-text-stroke:0;">4,18</span>
<span class="t" style="left:1150.20px;top:845.25px;font-size:19.19px;color:#f6f6f6;transform:scaleX(0.9550);-webkit-text-stroke:0;">9,60</span>
<span class="t" style="left:1228.60px;top:845.25px;font-size:19.19px;color:#f6f6f6;transform:scaleX(0.9550);-webkit-text-stroke:0;">18,30</span>
<span class="t" style="left:1308.00px;top:845.25px;font-size:19.19px;color:#f6f6f6;transform:scaleX(0.9550);-webkit-text-stroke:0;">29,59</span>
<span class="t" style="left:1385.90px;top:845.25px;font-size:19.19px;color:#f6f6f6;transform:scaleX(0.9550);-webkit-text-stroke:0;">43,74</span>
<span class="t" style="left:1464.80px;top:845.25px;font-size:19.19px;color:#f6f6f6;transform:scaleX(0.9550);-webkit-text-stroke:0;">60,42</span>
<span class="t" style="left:1543.20px;top:845.25px;font-size:19.19px;color:#f6f6f6;transform:scaleX(0.9550);-webkit-text-stroke:0;">81,52</span>
<span class="t" style="left:1621.00px;top:845.25px;font-size:19.19px;color:#f6f6f6;transform:scaleX(0.9550);-webkit-text-stroke:0;">107,01</span>
<span class="t" style="left:1699.60px;top:845.25px;font-size:19.19px;color:#f6f6f6;transform:scaleX(0.9550);-webkit-text-stroke:0;">131,78</span>
<span class="t" style="left:750.60px;top:876.35px;font-size:19.19px;color:#efefef;transform:scaleX(0.9370);-webkit-text-stroke:0;">Target Y</span>
<span class="t" style="left:904.60px;top:876.35px;font-size:19.19px;color:#efefef;transform:scaleX(0.9550);-webkit-text-stroke:0;">0,00</span>
<span class="t" style="left:993.60px;top:876.35px;font-size:19.19px;color:#efefef;transform:scaleX(0.9550);-webkit-text-stroke:0;">1,36</span>
<span class="t" style="left:1071.80px;top:876.35px;font-size:19.19px;color:#efefef;transform:scaleX(0.9550);-webkit-text-stroke:0;">4,36</span>
<span class="t" style="left:1150.20px;top:876.35px;font-size:19.19px;color:#efefef;transform:scaleX(0.9550);-webkit-text-stroke:0;">9,52</span>
<span class="t" style="left:1228.60px;top:876.35px;font-size:19.19px;color:#efefef;transform:scaleX(0.9550);-webkit-text-stroke:0;">17,51</span>
<span class="t" style="left:1308.00px;top:876.35px;font-size:19.19px;color:#efefef;transform:scaleX(0.9550);-webkit-text-stroke:0;">28,45</span>
<span class="t" style="left:1385.90px;top:876.35px;font-size:19.19px;color:#efefef;transform:scaleX(0.9550);-webkit-text-stroke:0;">41,98</span>
<span class="t" style="left:1464.80px;top:876.35px;font-size:19.19px;color:#efefef;transform:scaleX(0.9550);-webkit-text-stroke:0;">58,67</span>
<span class="t" style="left:1543.20px;top:876.35px;font-size:19.19px;color:#efefef;transform:scaleX(0.9550);-webkit-text-stroke:0;">79,57</span>
<span class="t" style="left:1621.00px;top:876.35px;font-size:19.19px;color:#efefef;transform:scaleX(0.9550);-webkit-text-stroke:0;">104,27</span>
<span class="t" style="left:1699.60px;top:876.35px;font-size:19.19px;color:#efefef;transform:scaleX(0.9550);-webkit-text-stroke:0;">131,78</span>
<span class="t" style="left:749.80px;top:906.95px;font-size:19.19px;color:#f6f6f6;transform:scaleX(1.0121);-webkit-text-stroke:0;">Gamma Log/Log</span>
<span class="t" style="left:904.60px;top:906.95px;font-size:19.19px;color:#f6f6f6;transform:scaleX(0.9550);-webkit-text-stroke:0;">1,28</span>
<span class="t" style="left:993.60px;top:906.95px;font-size:19.19px;color:#f6f6f6;transform:scaleX(0.9550);-webkit-text-stroke:0;">2,11</span>
<span class="t" style="left:1071.80px;top:906.95px;font-size:19.19px;color:#f6f6f6;transform:scaleX(0.9550);-webkit-text-stroke:0;">2,14</span>
<span class="t" style="left:1150.20px;top:906.95px;font-size:19.19px;color:#f6f6f6;transform:scaleX(0.9550);-webkit-text-stroke:0;">2,16</span>
<span class="t" style="left:1228.60px;top:906.95px;font-size:19.19px;color:#f6f6f6;transform:scaleX(0.9550);-webkit-text-stroke:0;">2,15</span>
<span class="t" style="left:1308.00px;top:906.95px;font-size:19.19px;color:#f6f6f6;transform:scaleX(0.9550);-webkit-text-stroke:0;">2,17</span>
<span class="t" style="left:1385.90px;top:906.95px;font-size:19.19px;color:#f6f6f6;transform:scaleX(0.9550);-webkit-text-stroke:0;">2,16</span>
<span class="t" style="left:1464.80px;top:906.95px;font-size:19.19px;color:#f6f6f6;transform:scaleX(0.9550);-webkit-text-stroke:0;">2,17</span>
<span class="t" style="left:1543.20px;top:906.95px;font-size:19.19px;color:#f6f6f6;transform:scaleX(0.9550);-webkit-text-stroke:0;">2,15</span>
<span class="t" style="left:1621.00px;top:906.95px;font-size:19.19px;color:#f6f6f6;transform:scaleX(0.9550);-webkit-text-stroke:0;">2,02</span>
<span class="t" style="left:1699.60px;top:906.95px;font-size:19.19px;color:#f6f6f6;transform:scaleX(0.9550);-webkit-text-stroke:0;">2,27</span>
<span class="t" style="left:749.60px;top:937.35px;font-size:19.19px;color:#efefef;transform:scaleX(0.8805);-webkit-text-stroke:0;">CCT</span>
<span class="t" style="left:904.60px;top:937.35px;font-size:19.19px;color:#efefef;transform:scaleX(0.9550);-webkit-text-stroke:0;">17844,00</span>
<span class="t" style="left:993.60px;top:937.35px;font-size:19.19px;color:#efefef;transform:scaleX(0.9550);-webkit-text-stroke:0;">6855,00</span>
<span class="t" style="left:1071.80px;top:937.35px;font-size:19.19px;color:#efefef;transform:scaleX(0.9550);-webkit-text-stroke:0;">6575,00</span>
<span class="t" style="left:1150.20px;top:937.35px;font-size:19.19px;color:#efefef;transform:scaleX(0.9550);-webkit-text-stroke:0;">6438,00</span>
<span class="t" style="left:1228.60px;top:937.35px;font-size:19.19px;color:#efefef;transform:scaleX(0.9550);-webkit-text-stroke:0;">6502,00</span>
<span class="t" style="left:1308.00px;top:937.35px;font-size:19.19px;color:#efefef;transform:scaleX(0.9550);-webkit-text-stroke:0;">6553,00</span>
<span class="t" style="left:1385.90px;top:937.35px;font-size:19.19px;color:#efefef;transform:scaleX(0.9550);-webkit-text-stroke:0;">6551,00</span>
<span class="t" style="left:1464.80px;top:937.35px;font-size:19.19px;color:#efefef;transform:scaleX(0.9550);-webkit-text-stroke:0;">6489,00</span>
<span class="t" style="left:1543.20px;top:937.35px;font-size:19.19px;color:#efefef;transform:scaleX(0.9550);-webkit-text-stroke:0;">6484,00</span>
<span class="t" style="left:1621.00px;top:937.35px;font-size:19.19px;color:#efefef;transform:scaleX(0.9550);-webkit-text-stroke:0;">6547,00</span>
<span class="t" style="left:1699.60px;top:937.35px;font-size:19.19px;color:#efefef;transform:scaleX(0.9550);-webkit-text-stroke:0;">6515,00</span>
<span class="t" style="left:750.80px;top:968.05px;font-size:19.19px;color:#f6f6f6;transform:scaleX(0.9428);-webkit-text-stroke:0;">ΔE 2000</span>
<span class="t" style="left:904.60px;top:968.05px;font-size:19.19px;color:#f6f6f6;transform:scaleX(0.9550);-webkit-text-stroke:0;">2,54</span>
<span class="t" style="left:993.60px;top:968.05px;font-size:19.19px;color:#f6f6f6;transform:scaleX(0.9550);-webkit-text-stroke:0;">1,87</span>
<span class="t" style="left:1071.80px;top:968.05px;font-size:19.19px;color:#f6f6f6;transform:scaleX(0.9550);-webkit-text-stroke:0;">0,67</span>
<span class="t" style="left:1150.20px;top:968.05px;font-size:19.19px;color:#f6f6f6;transform:scaleX(0.9550);-webkit-text-stroke:0;">0,28</span>
<span class="t" style="left:1228.60px;top:968.05px;font-size:19.19px;color:#f6f6f6;transform:scaleX(0.9550);-webkit-text-stroke:0;">0,87</span>
<span class="t" style="left:1308.00px;top:968.05px;font-size:19.19px;color:#f6f6f6;transform:scaleX(0.9550);-webkit-text-stroke:0;">0,98</span>
<span class="t" style="left:1385.90px;top:968.05px;font-size:19.19px;color:#f6f6f6;transform:scaleX(0.9550);-webkit-text-stroke:0;">1,08</span>
<span class="t" style="left:1464.80px;top:968.05px;font-size:19.19px;color:#f6f6f6;transform:scaleX(0.9550);-webkit-text-stroke:0;">0,78</span>
<span class="t" style="left:1543.20px;top:968.05px;font-size:19.19px;color:#f6f6f6;transform:scaleX(0.9550);-webkit-text-stroke:0;">0,68</span>
<span class="t" style="left:1621.00px;top:968.05px;font-size:19.19px;color:#f6f6f6;transform:scaleX(0.9550);-webkit-text-stroke:0;">0,74</span>
<span class="t" style="left:1699.60px;top:968.05px;font-size:19.19px;color:#f6f6f6;transform:scaleX(0.9550);-webkit-text-stroke:0;">0,40</span>
<span class="r" style="left:285.32px;top:644.37px;font-size:15.26px;transform:rotate(-90deg) scaleX(0.97);">Actual</span>
<span class="r" style="left:285.32px;top:699.12px;font-size:15.26px;transform:rotate(-90deg) scaleX(0.925);">Target</span>
</div>
</body></html>
